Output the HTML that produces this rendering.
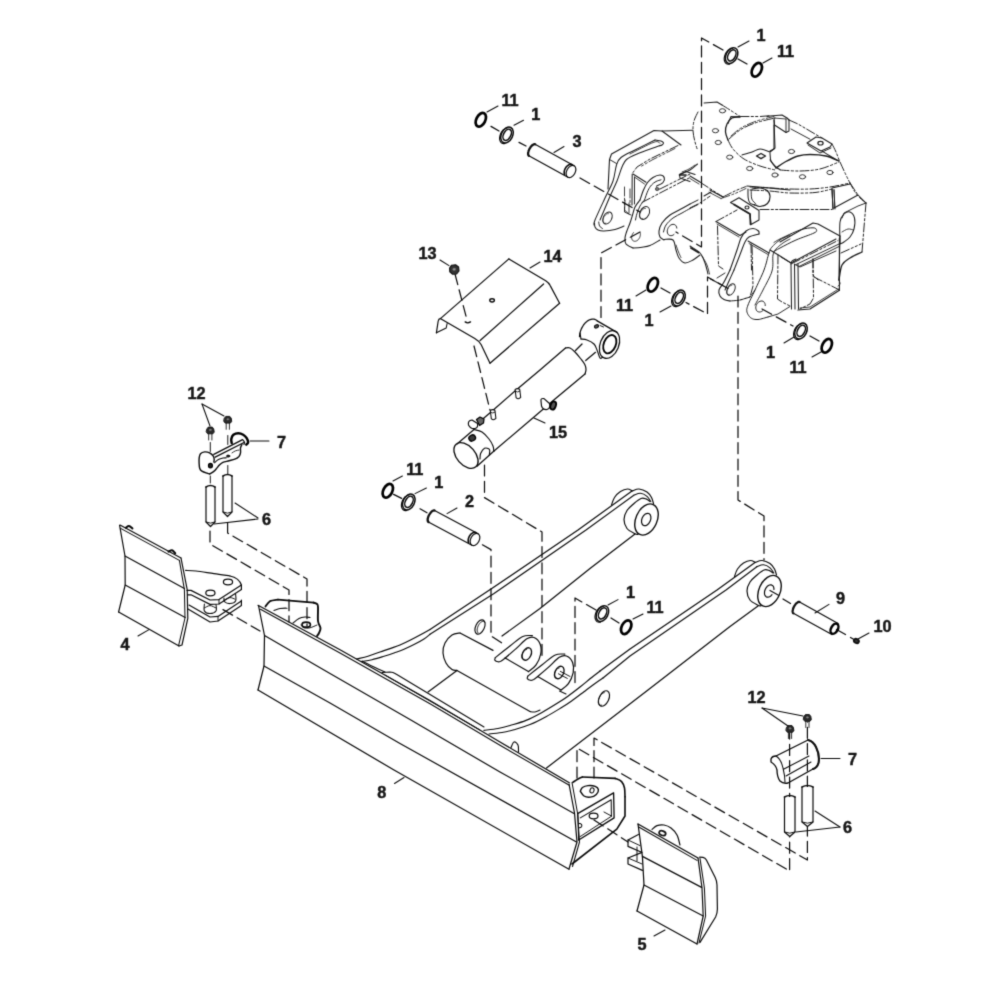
<!DOCTYPE html>
<html><head><meta charset="utf-8"><title>Parts diagram</title>
<style>
html,body{margin:0;padding:0;background:#fff;}
body{width:1000px;height:1000px;overflow:hidden;}
svg{display:block;}
svg text{font-family:"Liberation Sans",sans-serif;font-weight:700;fill:#161616;stroke:#161616;stroke-width:0.45px;}
svg path, svg ellipse{stroke-linecap:round;stroke-linejoin:round;}
</style></head>
<body>
<svg width="1000" height="1000" viewBox="0 0 1000 1000">
<defs><filter id="soft" x="0" y="0" width="1000" height="1000" filterUnits="userSpaceOnUse" color-interpolation-filters="sRGB"><feConvolveMatrix order="3" kernelMatrix="0.0192 0.1001 0.0192 0.1001 0.5228 0.1001 0.0192 0.1001 0.0192" edgeMode="duplicate" preserveAlpha="false"/></filter></defs>
<g filter="url(#soft)">
<rect width="1000" height="1000" fill="#fff"/>
<path d="M608.0,189.0 L609.5,159.5 L611.5,154.0 L654.0,130.5 L662.0,131.0 L681.0,145.0" fill="none" stroke="#1c1c1c" stroke-width="1.10" />
<path d="M662.0,131.0 L693.0,130.2" fill="none" stroke="#1c1c1c" stroke-width="1.04" />
<path d="M609.5,159.5 L616.5,163.5" fill="none" stroke="#1c1c1c" stroke-width="0.94" />
<path d="M655.0,140.0 C651.7,141.7 640.7,147.1 635.0,150.0 C629.3,152.9 624.1,155.0 621.0,157.5 C617.9,160.0 617.8,161.1 616.5,165.0 C615.2,168.9 614.9,175.5 613.0,181.0 C611.1,186.5 608.0,191.5 605.0,198.0 C602.0,204.5 596.8,215.5 595.0,220.0 C593.2,224.5 594.2,224.2 594.0,225.0" fill="none" stroke="#1c1c1c" stroke-width="1.04" />
<path d="M655.0,140.0 C656.0,140.2 659.6,140.5 661.0,141.0 C662.4,141.5 663.3,142.3 663.5,143.0 C663.7,143.7 662.7,144.5 662.0,145.0 C661.3,145.5 659.9,145.7 659.5,145.8" fill="none" stroke="#1c1c1c" stroke-width="1.04" />
<path d="M659.5,145.8 C655.8,147.2 642.5,151.7 637.0,154.0 C631.5,156.3 629.0,157.3 626.5,159.5 C624.0,161.7 623.6,163.4 622.0,167.0 C620.4,170.6 619.1,175.9 617.0,181.0 C614.9,186.1 612.3,191.0 609.5,197.5 C606.7,204.0 601.6,216.2 600.0,220.0" fill="none" stroke="#1c1c1c" stroke-width="1.04" />
<path d="M630.0,154.0 C634.0,152.0 649.0,143.9 654.0,142.2 C659.0,140.4 659.0,143.3 660.0,143.5" fill="none" stroke="#1c1c1c" stroke-width="0.84" />
<path d="M678.0,145.5 L650.0,159.0 L637.0,167.0 L633.0,172.5" fill="none" stroke="#1c1c1c" stroke-width="0.99" stroke-dasharray="9 2.2 2.2 2.2 2.2 2.2" stroke-linecap="butt"/>
<path d="M675.0,148.5 L652.0,160.0 L640.0,167.0" fill="none" stroke="#1c1c1c" stroke-width="0.84" stroke-dasharray="9 2.2 2.2 2.2 2.2 2.2" stroke-linecap="butt"/>
<path d="M632.2,174.0 L632.0,205.0" fill="none" stroke="#1c1c1c" stroke-width="1.04" />
<path d="M634.5,177.0 L634.5,204.0" fill="none" stroke="#1c1c1c" stroke-width="0.94" />
<path d="M624.5,187.0 L624.5,210.0 L630.0,215.0" fill="none" stroke="#1c1c1c" stroke-width="0.84" stroke-dasharray="9 2.2 2.2 2.2 2.2 2.2" stroke-linecap="butt"/>
<path d="M630.0,189.0 L630.0,205.0" fill="none" stroke="#1c1c1c" stroke-width="0.84" stroke-dasharray="9 2.2 2.2 2.2 2.2 2.2" stroke-linecap="butt"/>
<path d="M633.0,174.0 L646.0,182.2" fill="none" stroke="#1c1c1c" stroke-width="1.04" />
<path d="M634.7,177.2 L644.5,184.0" fill="none" stroke="#1c1c1c" stroke-width="0.84" />
<path d="M640.0,200.0 C640.6,198.3 642.2,192.9 643.5,190.0 C644.8,187.1 645.9,184.6 647.5,182.5 C649.1,180.4 650.9,178.8 653.0,177.5 C655.1,176.2 658.1,175.0 660.0,175.0 C661.9,175.0 663.7,176.2 664.2,177.5 C664.7,178.8 664.3,181.1 663.0,182.5 C661.7,183.9 657.6,185.6 656.5,186.2" fill="none" stroke="#1c1c1c" stroke-width="1.10" />
<path d="M644.5,200.0 C645.1,198.4 646.8,193.0 648.0,190.5 C649.2,188.0 650.2,186.5 651.5,185.0 C652.8,183.5 654.4,182.4 656.0,181.5 C657.6,180.6 660.2,180.1 661.0,179.8" fill="none" stroke="#1c1c1c" stroke-width="0.99" />
<ellipse cx="657.2" cy="189.0" rx="1.8" ry="1.6" transform="rotate(0 657.2 189.0)" fill="#777" stroke="#444" stroke-width="0.95"/>
<path d="M660.0,189.0 L680.0,179.0 L690.0,174.0" fill="none" stroke="#1c1c1c" stroke-width="0.99" stroke-dasharray="9 2.2 2.2 2.2 2.2 2.2" stroke-linecap="butt"/>
<path d="M642.0,202.5 L660.0,193.0 L690.0,177.5" fill="none" stroke="#1c1c1c" stroke-width="0.99" stroke-dasharray="9 2.2 2.2 2.2 2.2 2.2" stroke-linecap="butt"/>
<path d="M679.5,175.0 L686.0,171.5 L695.0,174.5" fill="none" stroke="#1c1c1c" stroke-width="1.15" />
<path d="M679.5,175.0 L680.0,178.0 L690.0,181.5" fill="none" stroke="#1c1c1c" stroke-width="1.04" />
<path d="M679.5,175.0 L686.0,175.0" fill="none" stroke="#1c1c1c" stroke-width="1.67" />
<path d="M594.5,223.0 C594.6,223.7 594.4,225.8 595.0,227.0 C595.6,228.2 596.5,229.3 598.0,230.0 C599.5,230.7 601.2,231.1 604.0,231.0 C606.8,230.9 611.7,230.3 615.0,229.5 C618.3,228.7 622.5,226.6 624.0,226.0" fill="none" stroke="#1c1c1c" stroke-width="1.04" />
<path d="M598.8,222.0 C598.9,222.7 598.9,224.9 599.5,226.0 C600.1,227.1 602.0,228.1 602.5,228.5" fill="none" stroke="#1c1c1c" stroke-width="0.94" />
<ellipse cx="607.5" cy="218.0" rx="4.2" ry="6.4" transform="rotate(27 607.5 218.0)" fill="none" stroke="#1c1c1c" stroke-width="0.95"/>
<path d="M605.8,223.2 L605.3,223.3 L604.8,223.3 L604.4,223.2 L604.0,223.0 L603.6,222.8 L603.4,222.4 L603.2,221.9 L603.0,221.4 L602.9,220.8 L602.9,220.2 L603.0,219.5 L603.2,218.8 L603.4,218.1 L603.7,217.4 L604.0,216.7 L604.4,216.1 L604.9,215.5 L605.4,215.0 L605.9,214.6 L606.4,214.2 L606.9,213.9 L607.4,213.7 L607.9,213.7 L608.4,213.7" fill="none" stroke="#1c1c1c" stroke-width="0.76" />
<path d="M640.0,200.0 C639.2,201.2 636.2,204.5 635.0,207.0 C633.8,209.5 633.3,212.3 632.5,215.0 C631.7,217.7 631.0,220.2 630.0,223.0 C629.0,225.8 627.3,229.5 626.5,232.0 C625.7,234.5 625.1,236.0 625.0,238.0 C624.9,240.0 624.7,242.3 626.0,244.0 C627.3,245.7 631.8,247.3 633.0,248.0" fill="none" stroke="#1c1c1c" stroke-width="1.10" />
<path d="M644.5,200.0 C643.8,201.0 641.2,203.8 640.0,206.0 C638.8,208.2 637.8,211.2 637.0,213.5 C636.2,215.8 635.8,218.9 635.5,220.0" fill="none" stroke="#1c1c1c" stroke-width="0.99" />
<ellipse cx="644.5" cy="213.0" rx="4.6" ry="6.8" transform="rotate(27 644.5 213.0)" fill="none" stroke="#1c1c1c" stroke-width="0.95"/>
<path d="M642.8,218.4 L642.3,218.5 L641.8,218.5 L641.3,218.4 L640.9,218.2 L640.5,217.9 L640.2,217.5 L640.0,217.0 L639.8,216.5 L639.8,215.9 L639.7,215.2 L639.8,214.5 L640.0,213.8 L640.2,213.1 L640.5,212.3 L640.9,211.6 L641.3,211.0 L641.8,210.4 L642.3,209.8 L642.8,209.4 L643.3,209.0 L643.9,208.7 L644.4,208.5 L644.9,208.5 L645.4,208.5" fill="none" stroke="#1c1c1c" stroke-width="0.76" />
<path d="M640.0,232.6 L640.3,233.4 L640.4,234.3 L640.3,235.3 L640.1,236.3 L639.8,237.3 L639.3,238.2 L638.7,239.1 L638.0,239.9 L637.3,240.5 L636.5,240.9 L635.6,241.2 L634.8,241.3 L634.1,241.2 L633.4,240.9 L632.7,240.5 L632.3,239.9 L631.9,239.1 L631.7,238.2 L631.6,237.3 L631.7,236.3 L632.0,235.3 L632.4,234.3 L632.9,233.4 L633.5,232.6" fill="none" stroke="#1c1c1c" stroke-width="0.85" />
<path d="M633.0,248.0 C634.5,247.9 639.2,247.6 642.0,247.2 C644.8,246.8 647.0,246.7 650.0,245.5 C653.0,244.3 658.3,240.9 660.0,240.0" fill="none" stroke="#1c1c1c" stroke-width="1.04" />
<path d="M625.0,200.0 L624.5,212.0 L631.0,215.0" fill="none" stroke="#1c1c1c" stroke-width="0.94" />
<path d="M629.0,203.0 L629.0,213.0" fill="none" stroke="#1c1c1c" stroke-width="0.84" />
<path d="M690.0,204.0 C688.3,204.9 683.3,207.7 680.0,209.5 C676.7,211.3 673.0,212.8 670.0,215.0 C667.0,217.2 663.8,220.3 662.0,223.0 C660.2,225.7 659.3,228.7 659.0,231.0 C658.7,233.3 659.2,235.5 660.0,237.0 C660.8,238.5 663.3,239.5 664.0,240.0" fill="none" stroke="#1c1c1c" stroke-width="1.10" />
<path d="M690.0,208.5 C688.7,209.2 684.8,211.4 682.0,213.0 C679.2,214.6 675.7,216.0 673.0,218.0 C670.3,220.0 667.6,222.7 666.0,225.0 C664.4,227.3 663.9,230.8 663.5,232.0" fill="none" stroke="#1c1c1c" stroke-width="0.99" />
<path d="M674.0,234.4 L673.1,235.1 L672.1,235.5 L671.1,235.7 L670.1,235.6 L669.2,235.3 L668.5,234.8 L667.9,234.0 L667.5,233.1 L667.3,232.0 L667.2,230.9 L667.5,229.7 L667.9,228.5 L668.4,227.4 L669.2,226.4 L670.1,225.5 L671.0,224.9 L672.0,224.5 L673.0,224.3 L674.0,224.4 L674.8,224.7 L675.6,225.3 L676.2,226.1 L676.6,227.0 L676.8,228.1" fill="none" stroke="#1c1c1c" stroke-width="0.95" />
<path d="M690.0,204.0 L700.0,199.0" fill="none" stroke="#1c1c1c" stroke-width="0.99" stroke-dasharray="9 2.2 2.2 2.2 2.2 2.2" stroke-linecap="butt"/>
<path d="M690.0,208.5 L700.0,203.5" fill="none" stroke="#1c1c1c" stroke-width="0.99" stroke-dasharray="9 2.2 2.2 2.2 2.2 2.2" stroke-linecap="butt"/>
<path d="M664.0,239.5 C665.5,239.6 671.0,238.2 673.0,240.0 C675.0,241.8 675.0,247.0 676.0,250.0 C677.0,253.0 677.5,255.8 679.0,258.0 C680.5,260.2 682.7,262.7 685.0,263.0 C687.3,263.3 690.5,261.3 693.0,260.0 C695.5,258.7 698.8,255.8 700.0,255.0" fill="none" stroke="#1c1c1c" stroke-width="1.04" />
<path d="M676.0,245.0 C676.4,246.2 677.7,249.9 678.5,252.0 C679.3,254.1 680.6,256.6 681.0,257.5" fill="none" stroke="#1c1c1c" stroke-width="0.84" />
<path d="M691.0,248.0 L698.5,252.5" fill="none" stroke="#1c1c1c" stroke-width="1.88" />
<path d="M690.0,246.0 C691.7,247.2 697.5,250.2 700.0,253.0 C702.5,255.8 703.7,259.5 705.0,263.0 C706.3,266.5 707.5,272.2 708.0,274.0" fill="none" stroke="#1c1c1c" stroke-width="1.04" />
<path d="M702.0,256.0 C702.8,257.5 705.8,262.0 707.0,265.0 C708.2,268.0 709.1,272.5 709.5,274.0" fill="none" stroke="#1c1c1c" stroke-width="0.84" />
<path d="M710.5,279.0 L720.0,284.0" fill="none" stroke="#1c1c1c" stroke-width="1.04" />
<path d="M717.0,278.0 L725.0,273.0" fill="none" stroke="#1c1c1c" stroke-width="0.94" />
<path d="M704.0,103.0 L717.0,102.0 L722.0,105.0" fill="none" stroke="#1c1c1c" stroke-width="1.04" />
<path d="M722.0,105.0 C723.3,105.8 727.0,108.1 730.0,110.0 C733.0,111.9 738.3,115.4 740.0,116.5" fill="none" stroke="#1c1c1c" stroke-width="0.99" stroke-dasharray="9 2.2 2.2 2.2 2.2 2.2" stroke-linecap="butt"/>
<path d="M698.0,112.0 C697.3,113.5 694.8,117.8 694.0,121.0 C693.2,124.2 692.8,127.5 693.0,131.0 C693.2,134.5 694.2,138.8 695.0,142.0 C695.8,145.2 697.1,148.7 697.5,150.0" fill="none" stroke="#1c1c1c" stroke-width="0.99" stroke-dasharray="9 2.2 2.2 2.2 2.2 2.2" stroke-linecap="butt"/>
<path d="M697.5,164.0 C696.2,165.0 692.9,168.3 690.0,170.0 C687.1,171.7 681.7,173.3 680.0,174.0" fill="none" stroke="#1c1c1c" stroke-width="1.04" />
<path d="M695.0,165.0 C694.0,165.7 691.2,167.8 689.0,169.0 C686.8,170.2 683.2,171.5 682.0,172.0" fill="none" stroke="#1c1c1c" stroke-width="0.84" />
<ellipse cx="722.5" cy="110.8" rx="3.1" ry="2.1" transform="rotate(0 722.5 110.8)" fill="none" stroke="#1c1c1c" stroke-width="0.90"/>
<ellipse cx="715.5" cy="130.7" rx="3.1" ry="2.1" transform="rotate(0 715.5 130.7)" fill="none" stroke="#1c1c1c" stroke-width="0.90"/>
<ellipse cx="718.3" cy="142.5" rx="3.1" ry="2.1" transform="rotate(0 718.3 142.5)" fill="none" stroke="#1c1c1c" stroke-width="0.90"/>
<ellipse cx="729.7" cy="157.2" rx="3.1" ry="2.1" transform="rotate(0 729.7 157.2)" fill="none" stroke="#1c1c1c" stroke-width="0.90"/>
<ellipse cx="749.7" cy="168.5" rx="3.1" ry="2.1" transform="rotate(0 749.7 168.5)" fill="none" stroke="#1c1c1c" stroke-width="0.90"/>
<ellipse cx="775.0" cy="175.0" rx="3.1" ry="2.1" transform="rotate(0 775.0 175.0)" fill="none" stroke="#1c1c1c" stroke-width="0.90"/>
<path d="M740.0,116.5 C738.7,116.8 734.2,116.8 732.0,118.0 C729.8,119.2 728.1,121.7 727.0,124.0 C725.9,126.3 725.3,129.3 725.5,132.0 C725.7,134.7 727.6,138.7 728.0,140.0" fill="none" stroke="#1c1c1c" stroke-width="1.31" />
<path d="M728.0,140.0 C728.8,141.5 730.3,145.8 733.0,149.0 C735.7,152.2 739.5,156.2 744.0,159.0 C748.5,161.8 754.8,164.2 760.0,166.0 C765.2,167.8 772.5,169.3 775.0,170.0" fill="none" stroke="#1c1c1c" stroke-width="0.99" stroke-dasharray="9 2.2 2.2 2.2 2.2 2.2" stroke-linecap="butt"/>
<path d="M728.0,123.5 L731.0,116.5 L740.0,117.2" fill="none" stroke="#1c1c1c" stroke-width="1.04" />
<path d="M729.0,139.0 C730.8,137.5 735.7,132.7 740.0,130.0 C744.3,127.3 749.2,125.0 755.0,123.0 C760.8,121.0 771.7,118.8 775.0,118.0" fill="none" stroke="#1c1c1c" stroke-width="0.99" stroke-dasharray="9 2.2 2.2 2.2 2.2 2.2" stroke-linecap="butt"/>
<path d="M731.0,136.0 C732.7,134.7 736.8,130.5 741.0,128.0 C745.2,125.5 750.5,123.1 756.0,121.2 C761.5,119.3 771.0,117.3 774.0,116.5" fill="none" stroke="#1c1c1c" stroke-width="0.84" stroke-dasharray="9 2.2 2.2 2.2 2.2 2.2" stroke-linecap="butt"/>
<path d="M740.0,116.5 L760.0,116.5 L770.0,115.7" fill="none" stroke="#1c1c1c" stroke-width="0.99" stroke-dasharray="9 2.2 2.2 2.2 2.2 2.2" stroke-linecap="butt"/>
<path d="M774.0,120.0 L775.0,148.0 L770.0,152.0" fill="none" stroke="#1c1c1c" stroke-width="1.04" />
<path d="M742.0,155.0 C743.7,154.5 749.0,153.0 752.0,152.0 C755.0,151.0 757.0,149.0 760.0,149.0 C763.0,149.0 768.3,151.5 770.0,152.0" fill="none" stroke="#1c1c1c" stroke-width="1.04" />
<path d="M756.5,156.0 L761.0,153.5 L765.5,156.0 L761.0,158.7 Z" fill="none" stroke="#1c1c1c" stroke-width="1.36" />
<path d="M770.0,153.0 C770.2,154.3 770.0,158.7 771.0,161.0 C772.0,163.3 774.5,165.6 776.0,167.0 C777.5,168.4 779.3,169.1 780.0,169.5" fill="none" stroke="#1c1c1c" stroke-width="1.04" />
<path d="M767.0,116.5 L770.0,116.0 L782.0,115.0 L787.0,118.0 L789.0,120.0" fill="none" stroke="#1c1c1c" stroke-width="1.15" />
<path d="M774.0,118.0 L774.5,125.0 L786.0,132.5 L789.0,131.0 L789.0,120.0" fill="none" stroke="#1c1c1c" stroke-width="1.04" />
<path d="M786.0,132.5 L786.0,119.0" fill="none" stroke="#1c1c1c" stroke-width="0.94" />
<path d="M774.0,118.0 L786.0,119.0" fill="none" stroke="#1c1c1c" stroke-width="0.84" />
<path d="M789.0,120.0 L798.0,124.0 L815.0,134.0 L822.0,138.0" fill="none" stroke="#1c1c1c" stroke-width="0.99" stroke-dasharray="9 2.2 2.2 2.2 2.2 2.2" stroke-linecap="butt"/>
<path d="M791.0,129.0 L810.0,139.2" fill="none" stroke="#1c1c1c" stroke-width="0.94" />
<path d="M807.0,143.0 L816.0,137.0 L822.0,138.0 L832.0,144.0 L830.0,147.0 L821.0,151.0 Z" fill="none" stroke="#1c1c1c" stroke-width="1.04" />
<ellipse cx="820.5" cy="143.2" rx="2.6" ry="1.8" transform="rotate(0 820.5 143.2)" fill="none" stroke="#1c1c1c" stroke-width="1.23"/>
<path d="M808.0,145.0 L820.0,153.0 L831.0,148.0" fill="none" stroke="#1c1c1c" stroke-width="0.94" />
<path d="M832.0,144.0 C832.7,145.3 834.7,149.0 836.0,152.0 C837.3,155.0 838.3,158.2 840.0,162.0 C841.7,165.8 844.3,171.5 846.0,175.0 C847.7,178.5 848.5,180.2 850.0,183.0 C851.5,185.8 853.3,189.5 855.0,192.0 C856.7,194.5 858.2,196.2 860.0,198.0 C861.8,199.8 865.0,202.2 866.0,203.0" fill="none" stroke="#1c1c1c" stroke-width="0.99" stroke-dasharray="9 2.2 2.2 2.2 2.2 2.2" stroke-linecap="butt"/>
<path d="M776.0,168.0 C777.5,167.0 781.3,164.0 785.0,162.0 C788.7,160.0 793.8,157.2 798.0,156.0 C802.2,154.8 805.3,154.5 810.0,154.5 C814.7,154.5 821.2,154.9 826.0,156.0 C830.8,157.1 836.8,160.2 839.0,161.0" fill="none" stroke="#1c1c1c" stroke-width="1.36" />
<path d="M780.0,170.0 C783.3,170.2 793.3,171.2 800.0,171.0 C806.7,170.8 813.5,170.5 820.0,169.0 C826.5,167.5 835.8,163.2 839.0,162.0" fill="none" stroke="#1c1c1c" stroke-width="0.99" stroke-dasharray="9 2.2 2.2 2.2 2.2 2.2" stroke-linecap="butt"/>
<path d="M822.0,151.0 C823.3,151.8 827.5,154.5 830.0,156.0 C832.5,157.5 835.8,159.3 837.0,160.0" fill="none" stroke="#1c1c1c" stroke-width="1.04" />
<path d="M774.0,125.0 L774.0,149.0 L770.0,151.0" fill="none" stroke="#1c1c1c" stroke-width="1.04" />
<path d="M770.0,160.0 C771.0,161.3 775.0,166.7 776.0,168.0" fill="none" stroke="#1c1c1c" stroke-width="1.04" />
<ellipse cx="791.5" cy="151.5" rx="3.1" ry="2.1" transform="rotate(0 791.5 151.5)" fill="none" stroke="#1c1c1c" stroke-width="0.90"/>
<ellipse cx="802.5" cy="176.8" rx="3.1" ry="2.1" transform="rotate(0 802.5 176.8)" fill="none" stroke="#1c1c1c" stroke-width="0.90"/>
<ellipse cx="830.0" cy="172.5" rx="3.1" ry="2.1" transform="rotate(0 830.0 172.5)" fill="none" stroke="#1c1c1c" stroke-width="0.90"/>
<path d="M750.0,187.0 C753.3,187.2 763.3,187.7 770.0,188.0 C776.7,188.3 783.3,188.8 790.0,189.0 C796.7,189.2 803.3,189.3 810.0,189.0 C816.7,188.7 823.3,188.0 830.0,187.0 C836.7,186.0 846.7,183.7 850.0,183.0" fill="none" stroke="#1c1c1c" stroke-width="0.99" stroke-dasharray="9 2.2 2.2 2.2 2.2 2.2" stroke-linecap="butt"/>
<path d="M750.0,190.0 C753.3,190.2 763.3,190.5 770.0,191.0 C776.7,191.5 782.5,192.8 790.0,193.0 C797.5,193.2 808.0,193.2 815.0,192.5 C822.0,191.8 829.2,189.6 832.0,189.0" fill="none" stroke="#1c1c1c" stroke-width="0.99" stroke-dasharray="9 2.2 2.2 2.2 2.2 2.2" stroke-linecap="butt"/>
<path d="M832.0,189.0 L833.0,209.0" fill="none" stroke="#1c1c1c" stroke-width="1.04" />
<path d="M834.0,190.0 L835.0,209.0" fill="none" stroke="#1c1c1c" stroke-width="0.94" />
<path d="M832.0,188.0 L850.0,184.0" fill="none" stroke="#1c1c1c" stroke-width="1.04" />
<path d="M700.5,182.5 L723.0,197.0" fill="none" stroke="#1c1c1c" stroke-width="0.99" stroke-dasharray="9 2.2 2.2 2.2 2.2 2.2" stroke-linecap="butt"/>
<path d="M710.0,190.0 L723.0,197.0" fill="none" stroke="#1c1c1c" stroke-width="1.25" />
<path d="M709.0,192.2 L721.0,198.5" fill="none" stroke="#1c1c1c" stroke-width="0.84" />
<path d="M723.0,197.0 C725.0,196.0 731.2,192.8 735.0,191.0 C738.8,189.2 744.2,187.2 746.0,186.5" fill="none" stroke="#1c1c1c" stroke-width="0.99" stroke-dasharray="9 2.2 2.2 2.2 2.2 2.2" stroke-linecap="butt"/>
<path d="M721.0,198.5 C723.3,197.7 730.8,195.2 735.0,193.5 C739.2,191.8 744.2,189.3 746.0,188.5" fill="none" stroke="#1c1c1c" stroke-width="0.84" stroke-dasharray="9 2.2 2.2 2.2 2.2 2.2" stroke-linecap="butt"/>
<path d="M747.0,186.0 C750.0,186.2 757.8,186.8 765.0,187.5 C772.2,188.2 785.8,189.6 790.0,190.0" fill="none" stroke="#1c1c1c" stroke-width="1.15" />
<path d="M690.0,176.0 L700.0,182.0" fill="none" stroke="#1c1c1c" stroke-width="1.04" />
<path d="M690.0,178.5 L699.0,184.0" fill="none" stroke="#1c1c1c" stroke-width="0.84" />
<path d="M690.0,208.0 L700.0,203.0 L710.0,196.2" fill="none" stroke="#1c1c1c" stroke-width="0.99" stroke-dasharray="9 2.2 2.2 2.2 2.2 2.2" stroke-linecap="butt"/>
<path d="M704.0,196.0 L711.0,192.0" fill="none" stroke="#1c1c1c" stroke-width="1.04" />
<path d="M748.0,189.0 C748.0,190.5 747.9,195.7 748.2,198.0 C748.5,200.3 748.9,201.8 750.0,203.0 C751.1,204.2 754.2,204.8 755.0,205.2" fill="none" stroke="#1c1c1c" stroke-width="1.04" />
<path d="M751.2,190.0 C751.3,191.5 751.0,196.7 751.8,199.0 C752.6,201.3 755.3,203.2 756.0,204.0" fill="none" stroke="#1c1c1c" stroke-width="0.94" />
<path d="M752.0,189.0 C753.3,188.8 757.5,187.8 760.0,188.0 C762.5,188.2 765.3,189.2 767.0,190.5 C768.7,191.8 769.9,193.8 770.0,196.0 C770.1,198.2 769.2,201.8 767.5,203.5 C765.8,205.2 762.2,206.3 760.0,206.5 C757.8,206.7 755.0,204.8 754.0,204.5" fill="none" stroke="#1c1c1c" stroke-width="1.15" />
<path d="M760.0,209.5 L790.0,209.5" fill="none" stroke="#1c1c1c" stroke-width="0.99" stroke-dasharray="9 2.2 2.2 2.2 2.2 2.2" stroke-linecap="butt"/>
<path d="M730.5,202.5 L739.0,197.8 L759.0,210.5 L759.0,220.0 L751.0,224.5 L750.0,214.0 L734.0,204.5 Z" fill="none" stroke="#1c1c1c" stroke-width="1.04" />
<path d="M734.0,204.5 L750.0,214.0 L750.5,224.5" fill="none" stroke="#1c1c1c" stroke-width="1.67" />
<ellipse cx="747.0" cy="207.5" rx="2.0" ry="1.5" transform="rotate(0 747.0 207.5)" fill="none" stroke="#1c1c1c" stroke-width="1.14"/>
<path d="M716.0,221.5 L737.0,210.0" fill="none" stroke="#1c1c1c" stroke-width="0.99" stroke-dasharray="9 2.2 2.2 2.2 2.2 2.2" stroke-linecap="butt"/>
<path d="M716.0,221.5 L740.0,235.5 L746.0,232.0" fill="none" stroke="#1c1c1c" stroke-width="1.04" />
<path d="M717.0,224.0 L739.0,237.0" fill="none" stroke="#1c1c1c" stroke-width="0.84" />
<path d="M717.5,226.0 L718.5,266.0 L723.0,269.0" fill="none" stroke="#1c1c1c" stroke-width="0.99" stroke-dasharray="9 2.2 2.2 2.2 2.2 2.2" stroke-linecap="butt"/>
<path d="M759.0,234.0 C758.9,233.5 759.5,231.9 758.5,231.0 C757.5,230.1 755.1,228.5 753.0,228.5 C750.9,228.5 748.0,229.4 746.0,231.0 C744.0,232.6 742.5,234.8 741.0,238.0 C739.5,241.2 738.8,244.7 737.0,250.0 C735.2,255.3 731.2,266.7 730.0,270.0" fill="none" stroke="#1c1c1c" stroke-width="1.10" />
<path d="M759.0,234.0 C757.3,234.5 751.3,235.7 749.0,237.0 C746.7,238.3 746.3,239.5 745.0,242.0 C743.7,244.5 742.8,247.3 741.0,252.0 C739.2,256.7 735.2,267.0 734.0,270.0" fill="none" stroke="#1c1c1c" stroke-width="1.04" />
<path d="M730.0,270.0 C729.0,272.0 725.8,278.7 724.0,282.0 C722.2,285.3 719.7,287.7 719.0,290.0 C718.3,292.3 719.2,294.4 720.0,296.0 C720.8,297.6 722.3,298.7 724.0,299.5 C725.7,300.3 729.0,300.8 730.0,301.0" fill="none" stroke="#1c1c1c" stroke-width="1.10" />
<path d="M734.0,270.0 C733.2,271.8 730.5,277.7 729.0,281.0 C727.5,284.3 725.7,288.5 725.0,290.0" fill="none" stroke="#1c1c1c" stroke-width="1.04" />
<ellipse cx="731.0" cy="289.5" rx="3.6" ry="6.2" transform="rotate(27 731.0 289.5)" fill="none" stroke="#1c1c1c" stroke-width="0.95"/>
<path d="M729.2,294.4 L728.7,294.6 L728.3,294.6 L727.9,294.5 L727.6,294.4 L727.3,294.1 L727.1,293.8 L726.9,293.4 L726.8,292.9 L726.8,292.3 L726.8,291.7 L726.9,291.1 L727.0,290.4 L727.3,289.7 L727.6,289.1 L727.9,288.4 L728.3,287.8 L728.7,287.3 L729.1,286.8 L729.6,286.3 L730.1,285.9 L730.5,285.7 L731.0,285.5 L731.4,285.4 L731.8,285.4" fill="none" stroke="#1c1c1c" stroke-width="0.76" />
<path d="M730.0,301.0 C731.7,300.8 736.7,300.7 740.0,300.0 C743.3,299.3 748.3,297.5 750.0,297.0" fill="none" stroke="#1c1c1c" stroke-width="0.99" stroke-dasharray="9 2.2 2.2 2.2 2.2 2.2" stroke-linecap="butt"/>
<path d="M748.0,241.0 L769.0,253.0" fill="none" stroke="#1c1c1c" stroke-width="1.04" />
<path d="M749.0,243.5 L768.0,254.5" fill="none" stroke="#1c1c1c" stroke-width="0.84" />
<path d="M751.0,244.0 L751.5,270.0" fill="none" stroke="#1c1c1c" stroke-width="0.99" stroke-dasharray="9 2.2 2.2 2.2 2.2 2.2" stroke-linecap="butt"/>
<path d="M790.0,235.0 L789.2,235.4 L788.2,235.9 L786.9,236.4 L785.5,237.1 L784.0,237.8 L782.6,238.5 L781.2,239.2 L780.0,240.0 L778.9,240.8 L777.7,241.6 L776.6,242.5 L775.6,243.4 L774.5,244.4 L773.6,245.3 L772.7,246.2 L772.0,247.0 L771.4,247.7 L770.9,248.3 L770.6,248.8 L770.3,249.4 L770.1,250.0 L769.8,250.8 L769.4,251.7 L769.0,253.0 L768.5,254.6 L768.0,256.4 L767.4,258.4 L766.9,260.6 L766.3,262.9 L765.6,265.3 L764.8,267.7 L764.0,270.0 L763.1,272.4 L762.0,274.9 L760.8,277.5 L759.6,280.1 L758.4,282.7 L757.2,285.3 L756.1,287.7 L755.0,290.0 L754.0,292.2 L753.0,294.3 L752.0,296.3 L751.0,298.3 L750.1,300.2 L749.3,301.9 L748.6,303.5 L748.0,305.0 L747.6,306.3 L747.2,307.3 L747.0,308.3 L746.8,309.1 L746.7,309.8 L746.8,310.5 L746.8,311.2 L747.0,312.0 L747.2,312.8 L747.6,313.7 L748.0,314.5 L748.5,315.3 L749.1,316.1 L749.7,316.8 L750.3,317.5 L751.0,318.0 L751.7,318.4 L752.5,318.8 L753.3,319.1 L754.1,319.3 L755.0,319.4 L756.0,319.5 L757.0,319.5 L758.0,319.5 L759.2,319.4 L760.5,319.1 L762.0,318.7 L763.4,318.3 L764.9,317.9 L766.1,317.5 L767.2,317.2 L768.0,317.0" fill="none" stroke="#1c1c1c" stroke-width="1.00" />
<path d="M790.0,239.0 L789.5,239.3 L788.7,239.7 L787.9,240.1 L786.9,240.6 L785.9,241.2 L784.9,241.8 L783.9,242.4 L783.0,243.0 L782.1,243.7 L781.2,244.4 L780.2,245.1 L779.2,245.9 L778.3,246.7 L777.5,247.5 L776.7,248.2 L776.0,249.0 L775.4,249.7 L774.9,250.3 L774.5,250.8 L774.1,251.4 L773.8,252.0 L773.5,252.8 L773.3,253.8 L773.0,255.0 L772.8,256.5 L772.8,258.2 L772.8,260.1 L772.9,262.2 L772.9,264.3 L772.8,266.6 L772.5,268.8 L772.0,271.0 L771.3,273.3 L770.3,275.6 L769.2,278.1 L767.9,280.6 L766.7,283.0 L765.4,285.5 L764.1,287.8 L763.0,290.0 L761.9,292.2 L760.7,294.4 L759.6,296.6 L758.4,298.7 L757.4,300.6 L756.4,302.4 L755.6,303.9 L755.0,305.0" fill="none" stroke="#1c1c1c" stroke-width="0.95" />
<path d="M832.0,189.0 L833.0,209.0" fill="none" stroke="#1c1c1c" stroke-width="1.04" />
<path d="M834.0,189.5 L834.8,208.0" fill="none" stroke="#1c1c1c" stroke-width="0.84" />
<path d="M780.0,209.5 L832.0,209.5" fill="none" stroke="#1c1c1c" stroke-width="0.99" stroke-dasharray="9 2.2 2.2 2.2 2.2 2.2" stroke-linecap="butt"/>
<path d="M834.0,208.0 L858.0,195.0 L866.0,203.0" fill="none" stroke="#1c1c1c" stroke-width="1.04" />
<path d="M850.0,183.0 L858.0,195.0" fill="none" stroke="#1c1c1c" stroke-width="0.99" stroke-dasharray="9 2.2 2.2 2.2 2.2 2.2" stroke-linecap="butt"/>
<path d="M866.0,203.0 L862.0,252.0" fill="none" stroke="#1c1c1c" stroke-width="0.99" stroke-dasharray="9 2.2 2.2 2.2 2.2 2.2" stroke-linecap="butt"/>
<path d="M862.0,252.0 C860.0,253.0 853.3,255.8 850.0,258.0 C846.7,260.2 843.8,261.3 842.0,265.0 C840.2,268.7 839.5,277.5 839.0,280.0" fill="none" stroke="#1c1c1c" stroke-width="1.31" />
<path d="M840.0,236.0 L839.0,280.0" fill="none" stroke="#1c1c1c" stroke-width="1.04" />
<path d="M840.0,244.0 C840.0,240.3 839.3,227.0 840.0,222.0 C840.7,217.0 842.3,215.7 844.0,214.0 C845.7,212.3 848.2,211.3 850.0,212.0 C851.8,212.7 853.8,215.2 854.5,218.0 C855.2,220.8 854.8,225.8 854.0,229.0 C853.2,232.2 851.7,234.8 850.0,237.0 C848.3,239.2 845.7,240.8 844.0,242.0 C842.3,243.2 840.7,243.7 840.0,244.0" fill="none" stroke="#1c1c1c" stroke-width="1.04" />
<path d="M842.0,232.0 C843.0,231.5 846.1,229.3 848.0,229.0 C849.9,228.7 852.6,229.8 853.5,230.0" fill="none" stroke="#1c1c1c" stroke-width="0.84" />
<path d="M842.0,218.0 L844.0,213.0 L858.0,206.0 L866.0,203.0" fill="none" stroke="#1c1c1c" stroke-width="0.94" />
<path d="M780.0,242.0 L813.0,223.0 L818.0,224.0 L840.0,236.0" fill="none" stroke="#1c1c1c" stroke-width="1.10" />
<path d="M774.0,242.5 C775.0,241.9 775.7,241.1 780.0,239.0 C784.3,236.9 794.5,231.9 800.0,230.0 C805.5,228.1 810.2,227.8 813.0,227.8 C815.8,227.8 816.3,229.1 816.5,230.0 C816.7,230.9 817.4,231.3 814.0,233.0 C810.6,234.7 801.7,237.5 796.0,240.0 C790.3,242.5 783.7,246.1 780.0,248.0 C776.3,249.9 775.0,250.9 774.0,251.5" fill="none" stroke="#1c1c1c" stroke-width="0.99" />
<path d="M770.0,250.0 L780.0,256.0 L791.0,263.0 L836.0,239.0" fill="none" stroke="#1c1c1c" stroke-width="1.04" />
<path d="M792.0,263.5 L838.0,240.5" fill="none" stroke="#1c1c1c" stroke-width="0.99" stroke-dasharray="9 2.2 2.2 2.2 2.2 2.2" stroke-linecap="butt"/>
<path d="M795.0,265.0 L839.0,244.0" fill="none" stroke="#1c1c1c" stroke-width="0.94" />
<path d="M799.0,266.5 L839.0,246.5" fill="none" stroke="#1c1c1c" stroke-width="0.94" />
<path d="M813.0,259.0 L813.0,275.0 L818.0,280.0" fill="none" stroke="#1c1c1c" stroke-width="0.99" stroke-dasharray="9 2.2 2.2 2.2 2.2 2.2" stroke-linecap="butt"/>
<path d="M841.0,253.0 L861.0,244.0" fill="none" stroke="#1c1c1c" stroke-width="0.99" stroke-dasharray="9 2.2 2.2 2.2 2.2 2.2" stroke-linecap="butt"/>
<path d="M762.6,310.8 L761.6,311.5 L760.6,311.9 L759.6,312.0 L758.6,311.9 L757.7,311.6 L756.9,311.0 L756.4,310.2 L756.0,309.2 L755.8,308.1 L755.8,306.9 L756.1,305.7 L756.6,304.5 L757.2,303.4 L758.1,302.5 L759.0,301.8 L760.0,301.3 L761.0,301.0 L762.0,301.0 L763.0,301.2 L763.8,301.8 L764.4,302.5 L764.9,303.4 L765.2,304.5 L765.2,305.6" fill="none" stroke="#1c1c1c" stroke-width="0.95" />
<path d="M752.0,246.0 L753.0,286.0 L750.0,297.0 L740.0,300.0" fill="none" stroke="#1c1c1c" stroke-width="0.99" stroke-dasharray="9 2.2 2.2 2.2 2.2 2.2" stroke-linecap="butt"/>
<path d="M750.0,297.0 L755.0,290.0" fill="none" stroke="#1c1c1c" stroke-width="0.84" />
<path d="M791.0,264.0 L791.5,309.0" fill="none" stroke="#1c1c1c" stroke-width="1.04" />
<path d="M794.5,264.0 L795.0,309.0" fill="none" stroke="#1c1c1c" stroke-width="1.04" />
<path d="M798.0,264.0 L798.5,309.0" fill="none" stroke="#1c1c1c" stroke-width="1.04" />
<path d="M791.0,264.0 C791.2,263.5 791.2,261.8 792.0,261.0 C792.8,260.2 795.3,259.3 796.0,259.0" fill="none" stroke="#1c1c1c" stroke-width="1.04" />
<path d="M796.0,265.0 L800.0,267.0 L836.0,251.0" fill="none" stroke="#1c1c1c" stroke-width="0.94" />
<path d="M798.0,310.0 L810.0,309.0 L839.4,290.3" fill="none" stroke="#1c1c1c" stroke-width="1.25" />
<path d="M800.0,308.0 L810.0,307.0 L838.5,289.0" fill="none" stroke="#1c1c1c" stroke-width="0.84" />
<path d="M839.4,238.0 L839.4,290.3" fill="none" stroke="#1c1c1c" stroke-width="1.15" />
<path d="M813.0,259.0 L813.5,298.0 L810.0,304.0 L800.0,309.0" fill="none" stroke="#1c1c1c" stroke-width="0.99" stroke-dasharray="9 2.2 2.2 2.2 2.2 2.2" stroke-linecap="butt"/>
<path d="M781.0,257.0 L791.0,263.0" fill="none" stroke="#1c1c1c" stroke-width="0.94" />
<path d="M778.0,255.0 L777.5,299.0 L782.0,302.0 L790.0,306.0" fill="none" stroke="#1c1c1c" stroke-width="0.99" stroke-dasharray="9 2.2 2.2 2.2 2.2 2.2" stroke-linecap="butt"/>
<path d="M790.0,306.5 L778.0,314.0 L768.0,317.0" fill="none" stroke="#1c1c1c" stroke-width="0.94" />
<path d="M814.0,277.0 L838.5,289.5" fill="none" stroke="#1c1c1c" stroke-width="0.99" stroke-dasharray="9 2.2 2.2 2.2 2.2 2.2" stroke-linecap="butt"/>
<path d="M839.0,280.0 C839.2,280.7 840.2,283.0 840.0,284.0 C839.8,285.0 838.3,285.7 838.0,286.0" fill="none" stroke="#1c1c1c" stroke-width="0.94" />
<path d="M723.0,50.0 L701.5,38.0 L701.5,247.0 L676.0,232.0" fill="none" stroke="#0a0a0a" stroke-width="1.23" stroke-dasharray="11 5.3" stroke-linecap="butt" stroke-dashoffset="0"/>
<path d="M728.0,288.5 L707.5,277.0 L707.5,314.0 L686.0,302.5" fill="none" stroke="#0a0a0a" stroke-width="1.23" stroke-dasharray="11 5.3" stroke-linecap="butt" stroke-dashoffset="0"/>
<path d="M738.0,59.0 L747.0,64.0" fill="none" stroke="#0a0a0a" stroke-width="1.23" stroke-dasharray="20 3" stroke-linecap="butt" stroke-dashoffset="0"/>
<path d="M491.0,126.4 L499.0,131.0" fill="none" stroke="#0a0a0a" stroke-width="1.23" stroke-dasharray="20 3" stroke-linecap="butt" stroke-dashoffset="0"/>
<path d="M519.0,142.4 L526.0,146.0" fill="none" stroke="#0a0a0a" stroke-width="1.23" stroke-dasharray="20 3" stroke-linecap="butt" stroke-dashoffset="0"/>
<path d="M580.0,178.0 L640.0,212.0" fill="none" stroke="#0a0a0a" stroke-width="1.23" stroke-dasharray="11 5.3" stroke-linecap="butt" stroke-dashoffset="0"/>
<path d="M455.0,274.0 L467.0,320.0" fill="none" stroke="#0a0a0a" stroke-width="1.23" stroke-dasharray="11 5.3" stroke-linecap="butt" stroke-dashoffset="0"/>
<path d="M474.0,346.0 L490.0,410.0" fill="none" stroke="#0a0a0a" stroke-width="1.23" stroke-dasharray="11 5.3" stroke-linecap="butt" stroke-dashoffset="0"/>
<path d="M640.0,232.0 L601.0,253.0 L601.0,319.0" fill="none" stroke="#0a0a0a" stroke-width="1.23" stroke-dasharray="11 5.3" stroke-linecap="butt" stroke-dashoffset="0"/>
<path d="M484.5,465.0 L484.5,497.6 L542.0,532.0 L542.0,656.0" fill="none" stroke="#0a0a0a" stroke-width="1.23" stroke-dasharray="11 5.3" stroke-linecap="butt" stroke-dashoffset="0"/>
<path d="M393.6,494.4 L401.6,498.4" fill="none" stroke="#0a0a0a" stroke-width="1.23" stroke-dasharray="20 3" stroke-linecap="butt" stroke-dashoffset="0"/>
<path d="M420.0,508.8 L427.0,512.8" fill="none" stroke="#0a0a0a" stroke-width="1.23" stroke-dasharray="20 3" stroke-linecap="butt" stroke-dashoffset="0"/>
<path d="M482.4,544.8 L491.0,549.6 L491.0,636.0 L505.0,645.0" fill="none" stroke="#0a0a0a" stroke-width="1.23" stroke-dasharray="11 5.3" stroke-linecap="butt" stroke-dashoffset="0"/>
<path d="M596.0,610.0 L575.0,598.0 L575.0,686.0" fill="none" stroke="#0a0a0a" stroke-width="1.23" stroke-dasharray="11 5.3" stroke-linecap="butt" stroke-dashoffset="0"/>
<path d="M611.0,618.0 L619.0,623.0" fill="none" stroke="#0a0a0a" stroke-width="1.23" stroke-dasharray="20 3" stroke-linecap="butt" stroke-dashoffset="0"/>
<path d="M661.0,288.0 L670.0,293.0" fill="none" stroke="#0a0a0a" stroke-width="1.23" stroke-dasharray="20 3" stroke-linecap="butt" stroke-dashoffset="0"/>
<path d="M762.0,309.0 L793.0,326.0" fill="none" stroke="#0a0a0a" stroke-width="1.23" stroke-dasharray="11 5.3" stroke-linecap="butt" stroke-dashoffset="0"/>
<path d="M810.0,336.0 L819.0,341.0" fill="none" stroke="#0a0a0a" stroke-width="1.23" stroke-dasharray="20 3" stroke-linecap="butt" stroke-dashoffset="0"/>
<path d="M738.0,296.0 L738.0,500.0 L764.0,516.0 L764.0,560.0" fill="none" stroke="#0a0a0a" stroke-width="1.23" stroke-dasharray="11 5.3" stroke-linecap="butt" stroke-dashoffset="0"/>
<path d="M783.0,599.0 L790.5,603.5" fill="none" stroke="#0a0a0a" stroke-width="1.23" stroke-dasharray="20 3" stroke-linecap="butt" stroke-dashoffset="0"/>
<path d="M836.5,629.5 L845.5,634.5" fill="none" stroke="#0a0a0a" stroke-width="1.23" stroke-dasharray="20 3" stroke-linecap="butt" stroke-dashoffset="0"/>
<path d="M850.5,637.5 L854.5,639.8" fill="none" stroke="#0a0a0a" stroke-width="1.23" stroke-dasharray="20 3" stroke-linecap="butt" stroke-dashoffset="0"/>
<path d="M210.3,442.5 L210.3,451.5" fill="none" stroke="#0a0a0a" stroke-width="0.95" />
<path d="M210.3,476.0 L210.3,483.0" fill="none" stroke="#0a0a0a" stroke-width="0.95" />
<path d="M227.8,435.5 L227.8,444.5" fill="none" stroke="#0a0a0a" stroke-width="0.95" />
<path d="M227.8,465.5 L227.8,474.5" fill="none" stroke="#0a0a0a" stroke-width="0.95" />
<path d="M210.0,531.0 L210.0,544.0 L289.0,590.0 L289.0,622.0" fill="none" stroke="#0a0a0a" stroke-width="1.23" stroke-dasharray="11 5.3" stroke-linecap="butt" stroke-dashoffset="0"/>
<path d="M227.6,523.0 L227.6,533.0 L307.0,579.0 L307.0,626.0" fill="none" stroke="#0a0a0a" stroke-width="1.23" stroke-dasharray="11 5.3" stroke-linecap="butt" stroke-dashoffset="0"/>
<path d="M223.0,609.6 L260.0,631.0" fill="none" stroke="#0a0a0a" stroke-width="1.23" stroke-dasharray="11 5.3" stroke-linecap="butt" stroke-dashoffset="0"/>
<path d="M577.0,778.0 L577.0,748.0 L789.6,871.0 L789.6,733.0" fill="none" stroke="#0a0a0a" stroke-width="1.23" stroke-dasharray="11 5.3" stroke-linecap="butt" stroke-dashoffset="0"/>
<path d="M594.0,778.0 L594.0,738.0 L807.4,860.0 L807.4,722.0" fill="none" stroke="#0a0a0a" stroke-width="1.23" stroke-dasharray="11 5.3" stroke-linecap="butt" stroke-dashoffset="0"/>
<path d="M594.0,820.0 L628.0,842.0" fill="none" stroke="#0a0a0a" stroke-width="1.23" stroke-dasharray="11 5.3" stroke-linecap="butt" stroke-dashoffset="0"/>
<path d="M449.6,268 L451.6,265.2 L455.6,264.8 L458.6,267 L459,271 L456.6,274 L452.4,274.2 L449.8,271.8 Z" fill="#333" stroke="#111" stroke-width="1.14" />
<ellipse cx="454.2" cy="269.3" rx="1.5" ry="1.2" transform="rotate(0 454.2 269.3)" fill="#999" stroke="#666" stroke-width="0.57"/>
<path d="M206.9,428.9 L208.3,427.1 L212.3,427.1 L213.70000000000002,428.9 L214.20000000000002,432.1 L212.9,433.8 L207.70000000000002,433.8 L206.4,432.1 Z" fill="#2a2a2a" stroke="#111" stroke-width="0.95" />
<ellipse cx="210.3" cy="429.9" rx="1.1" ry="0.8" transform="rotate(0 210.3 429.9)" fill="#888" stroke="#777" stroke-width="0.47"/>
<path d="M208.70000000000002,434.1 L208.70000000000002,440.0 M211.9,434.1 L211.9,440.0" fill="none" stroke="#0a0a0a" stroke-width="0.85" />
<path d="M224.4,418.2 L225.8,416.40000000000003 L229.8,416.40000000000003 L231.20000000000002,418.2 L231.70000000000002,421.40000000000003 L230.4,423.1 L225.20000000000002,423.1 L223.9,421.40000000000003 Z" fill="#2a2a2a" stroke="#111" stroke-width="0.95" />
<ellipse cx="227.8" cy="419.2" rx="1.1" ry="0.8" transform="rotate(0 227.8 419.2)" fill="#888" stroke="#777" stroke-width="0.47"/>
<path d="M226.20000000000002,423.40000000000003 L226.20000000000002,429.3 M229.4,423.40000000000003 L229.4,429.3" fill="none" stroke="#0a0a0a" stroke-width="0.85" />
<path d="M786.6,727.4 L788,725.6 L792,725.6 L793.4,727.4 L793.9,730.6 L792.6,732.3 L787.4,732.3 L786.1,730.6 Z" fill="#2a2a2a" stroke="#111" stroke-width="0.95" />
<ellipse cx="790" cy="728.4" rx="1.1" ry="0.8" transform="rotate(0 790 728.4)" fill="#888" stroke="#777" stroke-width="0.47"/>
<path d="M788.4,732.6 L788.4,738.5 M791.6,732.6 L791.6,738.5" fill="none" stroke="#0a0a0a" stroke-width="0.85" />
<path d="M804.0,716.4 L805.4,714.6 L809.4,714.6 L810.8,716.4 L811.3,719.6 L810.0,721.3 L804.8,721.3 L803.5,719.6 Z" fill="#2a2a2a" stroke="#111" stroke-width="0.95" />
<ellipse cx="807.4" cy="717.4" rx="1.1" ry="0.8" transform="rotate(0 807.4 717.4)" fill="#888" stroke="#777" stroke-width="0.47"/>
<path d="M805.8,721.6 L805.8,727.5 M809.0,721.6 L809.0,727.5" fill="none" stroke="#0a0a0a" stroke-width="0.85" />
<path d="M206,487 L206,522 L210.5,526.5 L215,522 L215,487" fill="#fff" stroke="#0a0a0a" stroke-width="1.19" />
<path d="M206,487 Q210.5,484 215,487" fill="none" stroke="#111" stroke-width="1.71" />
<path d="M206,522 Q210.5,524.5 215,522" fill="none" stroke="#0a0a0a" stroke-width="0.95" />
<path d="M223,476 L223,512 L227.5,516.5 L232,512 L232,476" fill="#fff" stroke="#0a0a0a" stroke-width="1.19" />
<path d="M223,476 Q227.5,473 232,476" fill="none" stroke="#111" stroke-width="1.71" />
<path d="M223,512 Q227.5,514.5 232,512" fill="none" stroke="#0a0a0a" stroke-width="0.95" />
<path d="M784.5,797 L784.5,832 L789.75,836.5 L795,832 L795,797" fill="#fff" stroke="#0a0a0a" stroke-width="1.19" />
<path d="M784.5,797 Q789.75,794 795,797" fill="none" stroke="#111" stroke-width="1.71" />
<path d="M784.5,832 Q789.75,834.5 795,832" fill="none" stroke="#0a0a0a" stroke-width="0.95" />
<path d="M802,787 L802,822 L807.5,826.5 L813,822 L813,787" fill="#fff" stroke="#0a0a0a" stroke-width="1.19" />
<path d="M802,787 Q807.5,784 813,787" fill="none" stroke="#111" stroke-width="1.71" />
<path d="M802,822 Q807.5,824.5 813,822" fill="none" stroke="#0a0a0a" stroke-width="0.95" />
<ellipse cx="856.4" cy="641" rx="2.6" ry="2.0" transform="rotate(30 856.4 641)" fill="#333" stroke="#111" stroke-width="1.90"/>
<path d="M436.4,332.8 L438.2,321.0 Q438.5,319.0 440.7,318.4 L508.9,258.9" fill="none" stroke="#0a0a0a" stroke-width="1.19" />
<path d="M508.9,258.9 L545.7,280.8 Q548.9,282.9 550.2,285.6 L559.6,303.2" fill="none" stroke="#0a0a0a" stroke-width="1.19" />
<path d="M559.6,303.2 L490.0,363.2" fill="none" stroke="#0a0a0a" stroke-width="1.19" />
<path d="M440.7,318.7 L474.8,338.4 Q479.1,340.8 481.2,344.8 L490.0,363.2" fill="none" stroke="#0a0a0a" stroke-width="1.19" />
<path d="M480.1,340.5 L543.6,284.0" fill="none" stroke="#0a0a0a" stroke-width="1.19" />
<path d="M447.1,323.5 L446.2,328.0 L436.4,332.8" fill="none" stroke="#0a0a0a" stroke-width="1.09" />
<ellipse cx="492.08" cy="300.32" rx="2.3" ry="1.6" transform="rotate(0 492.08 300.32)" fill="none" stroke="#0a0a0a" stroke-width="1.42"/>
<path d="M465.2,321.9 Q467.6,323.8 470.5,321.9" fill="none" stroke="#0a0a0a" stroke-width="1.42" />
<path d="M209.6,473.9 C209.2,473.8 208.8,473.8 207.5,473.3 C206.2,472.9 203.2,472.1 201.9,471.2 C200.6,470.4 200.1,469.7 199.7,468.3 C199.2,466.9 199.2,464.4 199.1,462.7 C199.0,460.9 199.0,459.3 199.2,457.8 C199.5,456.3 199.6,454.7 200.5,453.7 C201.4,452.8 203.2,452.1 204.7,451.9 C206.2,451.8 208.2,452.2 209.6,452.9 C211.0,453.6 212.3,454.8 213.1,455.8 C213.9,456.9 214.1,458.2 214.2,459.2 C214.3,460.2 213.9,461.5 213.8,462.0" fill="none" stroke="#0a0a0a" stroke-width="1.42" />
<path d="M209.6,473.9 C210.3,473.5 212.6,472.4 213.8,471.4 C215.0,470.5 215.7,469.5 216.6,468.4 C217.5,467.4 218.3,466.2 219.4,465.1 C220.5,464.1 221.3,463.2 222.9,462.4 C224.5,461.7 227.2,461.3 229.2,460.7 C231.2,460.2 233.2,459.9 234.8,459.2 C236.4,458.5 238.0,457.4 239.0,456.4 C240.0,455.3 240.3,454.3 240.5,452.9 C240.8,451.5 240.3,449.4 240.5,448.0 C240.8,446.6 241.7,445.2 241.9,444.6" fill="none" stroke="#0a0a0a" stroke-width="1.42" />
<path d="M214.5,462.8 C215.1,462.3 216.6,460.5 218.0,459.8 C219.4,459.0 221.5,458.5 222.9,458.1 C224.3,457.8 225.8,457.9 226.4,457.8" fill="none" stroke="#0a0a0a" stroke-width="1.04" />
<path d="M232.0,452.9 C232.6,452.5 234.3,451.3 235.5,450.8 C236.7,450.3 238.4,450.2 239.0,450.1" fill="none" stroke="#0a0a0a" stroke-width="0.85" />
<path d="M213.8,454.4 L242.6,439.6" fill="none" stroke="#0a0a0a" stroke-width="1.33" />
<path d="M215.2,457.2 L244.0,442.5" fill="none" stroke="#0a0a0a" stroke-width="1.33" />
<path d="M231.7,443.1 C231.6,442.4 231.0,440.3 231.3,438.9 C231.6,437.5 232.2,435.8 233.4,434.8 C234.6,433.9 236.7,433.3 238.3,433.3 C239.9,433.3 241.8,433.9 243.2,434.7 C244.6,435.5 245.9,436.9 246.7,438.2 C247.5,439.5 248.2,441.3 248.1,442.4 C248.0,443.5 246.6,444.3 246.3,444.6" fill="none" stroke="#000" stroke-width="2.47" />
<path d="M243.2,440.3 C243.4,440.6 244.5,441.7 244.6,442.4 C244.7,443.1 244.0,444.1 243.9,444.5" fill="none" stroke="#0a0a0a" stroke-width="1.14" />
<ellipse cx="210.44" cy="465.64" rx="2.0" ry="2.2" transform="rotate(0 210.44 465.64)" fill="#222" stroke="#000" stroke-width="1.14"/>
<ellipse cx="228.15" cy="456.12" rx="1.6" ry="1.0" transform="rotate(0 228.15 456.12)" fill="#222" stroke="#000" stroke-width="0.95"/>
<path d="M771,759 Q772,756 776,756 L808,740 Q813,741 816,747 Q820,755 818.5,763 Q817,768 813,769 L788,783 Q783,784 780,781 Q777,777 777,770 Q776,765 771,762 Z" fill="none" stroke="#0a0a0a" stroke-width="1.33" />
<path d="M808,740 Q813,741 816,747 Q820,755 818.5,763 Q817,768 813,769" fill="none" stroke="#111" stroke-width="2.09" />
<path d="M776,756 Q781,759 783,768 Q785,776 785,782 M784,769 L809,756 M786,776 L811,762" fill="none" stroke="#0a0a0a" stroke-width="1.04" />
<ellipse cx="466" cy="455.5" rx="9.3" ry="15" transform="rotate(-41 466 455.5)" fill="none" stroke="#0a0a0a" stroke-width="1.38"/>
<path d="M457.0,444.0 L474.0,429.5" fill="none" stroke="#0a0a0a" stroke-width="1.19" />
<path d="M477.0,466.3 L494.0,451.0" fill="none" stroke="#0a0a0a" stroke-width="1.19" />
<path d="M474.0,429.5 C475.3,429.9 479.5,430.4 482.0,432.0 C484.5,433.6 487.2,436.7 489.0,439.0 C490.8,441.3 492.2,444.0 493.0,446.0 C493.8,448.0 493.7,450.2 493.8,451.0" fill="none" stroke="#0a0a0a" stroke-width="1.14" />
<path d="M481.0,420.5 L491.0,412.0 L515.0,391.0 L540.0,370.0 L565.5,348.0" fill="none" stroke="#0a0a0a" stroke-width="1.19" />
<path d="M494.0,451.0 L534.0,417.0 L555.0,399.0 L585.0,374.0" fill="none" stroke="#0a0a0a" stroke-width="1.19" />
<path d="M565.5,348.0 C566.2,348.0 568.4,347.3 570.0,348.0 C571.6,348.7 573.2,350.2 575.0,352.0 C576.8,353.8 578.9,356.4 580.5,358.5 C582.1,360.6 583.9,362.7 584.8,364.5 C585.7,366.3 586.0,367.9 586.0,369.5 C586.0,371.1 585.2,373.2 585.0,374.0" fill="none" stroke="#0a0a0a" stroke-width="1.19" />
<path d="M575.5,350.5 L582.0,344.0" fill="none" stroke="#0a0a0a" stroke-width="1.19" />
<path d="M585.7,360.5 L595.5,352.3" fill="none" stroke="#0a0a0a" stroke-width="1.19" />
<ellipse cx="609.5" cy="344.5" rx="9.3" ry="14.5" transform="rotate(22 609.5 344.5)" fill="none" stroke="#0a0a0a" stroke-width="1.23"/>
<ellipse cx="609.8" cy="344.2" rx="6.0" ry="9.6" transform="rotate(22 609.8 344.2)" fill="none" stroke="#000" stroke-width="1.90"/>
<path d="M579.5,336.7 L579.6,335.4 L579.8,334.0 L580.1,332.7 L580.4,331.3 L580.9,330.0 L581.5,328.6 L582.1,327.4 L582.8,326.2 L583.5,325.0 L584.4,323.9 L585.2,322.9 L586.2,322.1 L587.1,321.3 L588.1,320.6 L589.1,320.0 L590.1,319.6 L591.1,319.3 L592.1,319.1 L593.0,319.1 L594.0,319.2 L594.8,319.4 L595.7,319.8 L596.5,320.3 L597.2,320.9" fill="none" stroke="#0a0a0a" stroke-width="1.23" />
<path d="M597.2,320.9 L617.0,332.4" fill="none" stroke="#0a0a0a" stroke-width="1.23" />
<path d="M581.0,339.0 C582.0,339.2 584.8,339.2 587.0,340.0 C589.2,340.8 592.3,342.3 594.0,344.0 C595.7,345.7 596.0,347.7 597.0,350.0 C598.0,352.3 599.1,356.8 600.0,358.0 C600.9,359.2 602.2,357.3 602.7,357.1" fill="none" stroke="#0a0a0a" stroke-width="1.14" />
<path d="M580.0,333.0 L581.0,339.0" fill="none" stroke="#0a0a0a" stroke-width="1.14" />
<ellipse cx="596.5" cy="326.3" rx="2.2" ry="1.5" transform="rotate(-25 596.5 326.3)" fill="#555" stroke="#111" stroke-width="1.14"/>
<path d="M600.0,325.5 L603.5,327.0" fill="none" stroke="#0a0a0a" stroke-width="0.95" />
<path d="M515.1,389.4 L516.1,397.6 Q518.3,400 520.7,397.4 L519.7,389.2 Q517.5,388 515.1,389.4 Z" fill="#fff" stroke="#0a0a0a" stroke-width="1.04" />
<path d="M515.3,391.4 Q517.5,392.8 519.8,391.2" fill="none" stroke="#0a0a0a" stroke-width="0.85" />
<path d="M490.3,410.4 L491.3,418.6 Q493.5,421 495.9,418.4 L494.9,410.2 Q492.7,409 490.3,410.4 Z" fill="#fff" stroke="#0a0a0a" stroke-width="1.04" />
<path d="M490.5,412.4 Q492.7,413.8 495.0,412.2" fill="none" stroke="#0a0a0a" stroke-width="0.85" />
<path d="M541,401 Q540.5,398 544,398.6 L549.5,403.5 Q551,408 547,409.5 Q543,410 541.5,406 Z" fill="#fff" stroke="#0a0a0a" stroke-width="1.19" />
<ellipse cx="553.2" cy="405.5" rx="2.6" ry="4.2" transform="rotate(20 553.2 405.5)" fill="#555" stroke="#000" stroke-width="1.90"/>
<path d="M468.5,425 Q467.5,420.5 472,420 L477.5,423.5 Q478.5,427.5 475,428.5 Q471,429.5 468.5,425 Z" fill="#fff" stroke="#0a0a0a" stroke-width="1.19" />
<path d="M476.5,419.5 L480,417 L484,419 L483.5,423 L479.5,425.5 Z" fill="#666" stroke="#000" stroke-width="1.23" />
<ellipse cx="472.2" cy="438" rx="3.4" ry="2.9" transform="rotate(-30 472.2 438)" fill="#3a3a3a" stroke="#000" stroke-width="1.33"/>
<path d="M480.0,459.0 C480.1,458.1 479.9,455.3 480.6,453.5 C481.4,451.7 483.0,449.0 484.5,448.3 C486.0,447.6 488.7,448.4 489.5,449.5 C490.3,450.6 489.3,454.1 489.3,455.0" fill="none" stroke="#0a0a0a" stroke-width="1.14" />
<path d="M119.6,525.4 L125.0,556.0 L125.2,585.0 L118.6,612.0" fill="none" stroke="#0a0a0a" stroke-width="1.19" />
<path d="M118.6,612.0 L179.0,646.0" fill="none" stroke="#0a0a0a" stroke-width="1.19" />
<path d="M120.0,525.0 L181.0,558.0" fill="none" stroke="#0a0a0a" stroke-width="1.19" />
<path d="M120.6,528.4 L179.4,560.4" fill="none" stroke="#0a0a0a" stroke-width="1.04" />
<path d="M181.0,558.0 L187.2,589.6 L187.8,618.4 L182.0,645.0 L179.0,646.0" fill="none" stroke="#0a0a0a" stroke-width="1.19" />
<path d="M179.4,560.4 L184.4,589.6 L185.0,618.0 L178.6,645.6" fill="none" stroke="#0a0a0a" stroke-width="1.04" />
<path d="M125.0,556.0 L184.4,588.4" fill="none" stroke="#0a0a0a" stroke-width="1.19" />
<path d="M125.2,585.0 L185.2,617.4" fill="none" stroke="#0a0a0a" stroke-width="1.19" />
<path d="M126.0,527.6 C126.5,527.3 127.9,525.9 129.0,526.0 C130.1,526.1 131.8,528.0 132.4,528.4" fill="none" stroke="#0a0a0a" stroke-width="2.09" />
<path d="M168.6,551.6 C169.2,551.4 170.9,549.9 172.0,550.2 C173.1,550.5 174.7,552.7 175.2,553.2" fill="none" stroke="#0a0a0a" stroke-width="2.09" />
<path d="M185.6,570.4 C187.3,570.5 191.3,570.5 196.0,571.0 C200.7,571.5 208.3,572.8 214.0,573.6 C219.7,574.4 227.3,575.6 230.0,576.0" fill="none" stroke="#0a0a0a" stroke-width="1.19" />
<path d="M230.0,576.0 Q239.0,578.0 241.4,585.0 L241.4,589.4" fill="none" stroke="#0a0a0a" stroke-width="1.19" />
<path d="M241.4,585.0 L219.0,599.6 L210.0,600.0 L191.0,590.4 L187.0,590.4" fill="none" stroke="#0a0a0a" stroke-width="1.19" />
<path d="M241.4,589.4 L219.0,604.0 L210.0,604.4 L191.0,594.8 L187.6,594.8" fill="none" stroke="#0a0a0a" stroke-width="1.19" />
<path d="M219.0,599.6 L219.0,604.0" fill="none" stroke="#0a0a0a" stroke-width="0.95" />
<ellipse cx="228.0" cy="582.0" rx="4.6" ry="2.8" transform="rotate(0 228.0 582.0)" fill="none" stroke="#0a0a0a" stroke-width="1.23"/>
<ellipse cx="210.4" cy="593.0" rx="4.6" ry="2.8" transform="rotate(0 210.4 593.0)" fill="none" stroke="#0a0a0a" stroke-width="1.23"/>
<path d="M241.4,600.0 L241.4,605.6 L218.0,621.0 L210.0,622.0 L188.0,609.0" fill="none" stroke="#0a0a0a" stroke-width="1.19" />
<path d="M241.4,601.0 L218.0,616.4 L210.0,617.0 L189.0,605.0" fill="none" stroke="#0a0a0a" stroke-width="1.19" />
<path d="M218.0,616.4 L218.0,621.0" fill="none" stroke="#0a0a0a" stroke-width="0.95" />
<path d="M204.4,604.0 C204.4,605.2 203.5,609.4 204.4,611.0 C205.3,612.6 208.1,613.6 210.0,613.6 C211.9,613.6 215.0,612.5 216.0,611.0 C217.0,609.5 216.0,605.5 216.0,604.4" fill="none" stroke="#0a0a0a" stroke-width="1.04" />
<path d="M204.4,608.0 C205.3,607.6 208.1,605.6 210.0,605.6 C211.9,605.6 215.0,607.6 216.0,608.0" fill="none" stroke="#0a0a0a" stroke-width="0.95" />
<path d="M224.0,598.0 C224.1,598.6 223.4,600.7 224.4,601.6 C225.4,602.5 228.1,603.7 230.0,603.6 C231.9,603.5 234.7,602.6 235.6,601.0 C236.5,599.4 235.6,595.2 235.6,594.0" fill="none" stroke="#0a0a0a" stroke-width="1.04" />
<path d="M224.4,600.0 C225.3,599.6 228.2,597.7 230.0,597.6 C231.8,597.5 234.2,598.9 235.0,599.2" fill="none" stroke="#0a0a0a" stroke-width="0.95" />
<path d="M258.0,605.3 L340.0,649.7 L430.0,700.5 L500.0,742.0 L569.3,782.8" fill="none" stroke="#0a0a0a" stroke-width="1.23" />
<path d="M260.5,609.3 L340.0,653.0 L430.0,703.8 L500.0,745.3 L569.3,785.3" fill="none" stroke="#0a0a0a" stroke-width="1.04" />
<path d="M264.5,635.5 L330.0,673.5 L410.0,719.5 L500.0,772.0 L574.0,813.5" fill="none" stroke="#0a0a0a" stroke-width="1.19" />
<path d="M264.0,666.0 L330.0,703.0 L400.0,743.5 L576.5,842.0" fill="none" stroke="#0a0a0a" stroke-width="1.19" />
<path d="M258.0,690.0 L394.0,770.0 L569.0,869.3" fill="none" stroke="#0a0a0a" stroke-width="1.23" />
<path d="M258.5,605.5 L264.5,635.5 L264.0,666.0 L258.0,690.0" fill="none" stroke="#0a0a0a" stroke-width="1.23" />
<path d="M569.0,784.0 L574.5,813.0 L577.0,842.0 L569.0,869.0" fill="none" stroke="#0a0a0a" stroke-width="1.23" />
<path d="M572.0,782.5 L577.5,813.0 L579.5,842.0 L572.5,866.5" fill="none" stroke="#0a0a0a" stroke-width="1.04" />
<path d="M265.5,606.5 C266.2,605.6 267.9,602.4 270.0,601.2 C272.1,600.1 276.7,599.9 278.0,599.6" fill="none" stroke="#0a0a0a" stroke-width="1.90" />
<path d="M278.0,599.6 L313.5,602.6" fill="none" stroke="#0a0a0a" stroke-width="1.90" />
<path d="M313.5,602.6 C314.1,602.8 316.2,603.3 317.0,604.0 C317.8,604.7 317.8,604.2 318.0,607.0 C318.2,609.8 317.6,617.5 318.0,621.0 C318.4,624.5 320.3,626.0 320.5,628.0 C320.7,630.0 319.6,631.7 319.0,633.0 C318.4,634.3 317.3,635.5 317.0,636.0" fill="none" stroke="#0a0a0a" stroke-width="1.90" />
<path d="M274.0,610.5 C275.0,610.2 277.8,608.9 280.0,608.5 C282.2,608.1 285.8,608.2 287.0,608.2" fill="none" stroke="#0a0a0a" stroke-width="1.14" />
<path d="M293.0,623.0 C294.0,622.2 297.0,619.5 299.0,618.5 C301.0,617.5 303.2,617.2 305.0,617.0 C306.8,616.8 309.2,617.4 310.0,617.5" fill="none" stroke="#0a0a0a" stroke-width="1.14" />
<ellipse cx="306.2" cy="624.7" rx="4.2" ry="2.5" transform="rotate(0 306.2 624.7)" fill="none" stroke="#0a0a0a" stroke-width="1.71"/>
<path d="M301.0,625.0 C301.5,625.5 302.5,627.3 304.0,627.8 C305.5,628.3 307.8,628.3 310.0,627.8 C312.2,627.3 315.8,625.5 317.0,625.0" fill="none" stroke="#0a0a0a" stroke-width="0.95" />
<path d="M572.8,782.4 C573.6,781.9 576.0,780.1 577.6,779.2 C579.2,778.3 581.6,777.3 582.4,777.0" fill="none" stroke="#0a0a0a" stroke-width="1.61" />
<path d="M582.4,777.0 L615.2,778.4" fill="none" stroke="#0a0a0a" stroke-width="1.61" />
<path d="M615.2,778.4 C616.3,778.9 620.1,780.0 621.6,781.6 C623.1,783.2 623.9,785.5 624.5,788.0 C625.0,790.5 624.9,795.3 625.0,796.8" fill="none" stroke="#0a0a0a" stroke-width="1.61" />
<path d="M625.0,796.8 L625.0,816.0 L616.8,829.1 L572.0,864.0" fill="none" stroke="#0a0a0a" stroke-width="1.61" />
<path d="M577.6,813.6 L613.6,792.8 L614.1,817.9 L578.7,840.0" fill="none" stroke="#0a0a0a" stroke-width="1.33" />
<path d="M580.3,817.9 L611.2,799.7 L611.4,816.0" fill="none" stroke="#0a0a0a" stroke-width="1.04" />
<path d="M611.4,816.0 L604.0,812.0" fill="none" stroke="#0a0a0a" stroke-width="0.95" />
<path d="M580.3,836.5 L611.4,816.3" fill="none" stroke="#0a0a0a" stroke-width="0.95" />
<path d="M577.9,814.4 L578.7,840.0" fill="none" stroke="#0a0a0a" stroke-width="1.14" />
<path d="M580.3,791.2 C580.7,790.6 581.1,788.5 582.4,787.5 C583.7,786.6 585.9,785.8 588.0,785.6 C590.1,785.4 593.5,785.7 595.2,786.4 C596.9,787.1 598.2,788.3 598.4,789.6 C598.6,790.9 597.7,793.1 596.3,794.4 C595.0,795.7 592.5,796.9 590.4,797.1 C588.3,797.4 585.7,797.0 584.0,796.0 C582.3,795.0 580.9,792.0 580.3,791.2" fill="none" stroke="#0a0a0a" stroke-width="1.42" />
<ellipse cx="592.0" cy="790.4" rx="2.0" ry="2.6" transform="rotate(20 592.0 790.4)" fill="none" stroke="#0a0a0a" stroke-width="1.04"/>
<ellipse cx="593.6" cy="816.0" rx="4.4" ry="2.8" transform="rotate(0 593.6 816.0)" fill="none" stroke="#0a0a0a" stroke-width="1.23"/>
<path d="M579.2,823.4 L579.5,823.4 L579.9,823.5 L580.2,823.6 L580.5,823.7 L580.8,823.9 L581.0,824.0 L581.3,824.3 L581.5,824.5 L581.6,824.8 L581.7,825.0 L581.8,825.3 L581.8,825.6 L581.8,825.9 L581.7,826.2 L581.6,826.4 L581.5,826.7 L581.3,826.9 L581.0,827.2 L580.8,827.3 L580.5,827.5 L580.2,827.6 L579.9,827.7 L579.5,827.8 L579.2,827.8" fill="none" stroke="#0a0a0a" stroke-width="1.04" />
<path d="M511.0,747.5 C511.5,746.6 512.8,742.4 514.0,742.0 C515.2,741.6 517.2,743.3 518.0,745.0 C518.8,746.7 518.4,750.8 518.5,752.0" fill="none" stroke="#0a0a0a" stroke-width="1.14" />
<path d="M356.5,659.0 C358.4,658.5 364.1,657.4 368.0,656.2 C371.9,655.0 376.3,653.3 380.0,652.0 C383.7,650.7 386.7,649.8 390.0,648.6 C393.3,647.4 396.7,646.4 400.0,645.0 C403.3,643.6 406.7,642.0 410.0,640.3 C413.3,638.6 416.7,636.8 420.0,635.0 C423.3,633.2 428.3,630.4 430.0,629.5" fill="none" stroke="#0a0a0a" stroke-width="1.19" />
<path d="M430.0,629.5 L494.0,587.0 L578.0,530.0 L632.0,491.0" fill="none" stroke="#0a0a0a" stroke-width="1.19" />
<path d="M361.0,661.5 C362.8,661.2 368.2,660.6 372.0,659.7 C375.8,658.8 380.3,657.4 384.0,656.3 C387.7,655.2 390.7,654.2 394.0,653.0 C397.3,651.8 400.7,650.7 404.0,649.3 C407.3,647.9 410.7,646.3 414.0,644.6 C417.3,642.9 421.3,640.7 424.0,639.0 C426.7,637.3 429.0,635.1 430.0,634.3" fill="none" stroke="#0a0a0a" stroke-width="1.09" />
<path d="M430.0,634.3 L494.0,593.5 L586.0,530.0 L633.5,495.5" fill="none" stroke="#0a0a0a" stroke-width="1.09" />
<path d="M502.0,636.0 L540.0,608.5 L590.0,568.5 L635.0,534.0" fill="none" stroke="#0a0a0a" stroke-width="1.19" />
<path d="M611.5,505.0 C612.0,503.8 613.0,499.8 614.5,497.5 C616.0,495.2 618.3,492.9 620.5,491.5 C622.7,490.1 625.6,489.1 627.5,489.0 C629.4,488.9 631.2,490.4 632.0,490.7" fill="none" stroke="#0a0a0a" stroke-width="1.14" />
<path d="M632.0,491.0 C633.2,490.7 636.5,488.8 639.0,489.0 C641.5,489.2 644.9,490.6 647.0,492.0 C649.1,493.4 650.4,495.6 651.5,497.5 C652.6,499.4 653.2,502.5 653.5,503.5" fill="none" stroke="#0a0a0a" stroke-width="1.19" />
<path d="M633.5,495.3 C634.7,495.0 638.2,493.1 640.5,493.3 C642.8,493.5 645.3,494.9 647.0,496.3 C648.7,497.7 650.2,500.6 650.8,501.5" fill="none" stroke="#0a0a0a" stroke-width="1.09" />
<path d="M650.0,501.5 C649.3,501.1 647.5,499.4 646.0,498.9 C644.5,498.4 643.0,497.7 641.0,498.5 C639.0,499.3 636.3,501.5 634.0,503.5 C631.7,505.5 628.7,507.8 627.0,510.5 C625.3,513.2 624.0,516.5 624.0,519.5 C624.0,522.5 625.2,526.1 627.0,528.5 C628.8,530.9 633.2,532.7 635.0,533.7 C636.8,534.7 637.5,534.2 638.0,534.3" fill="none" stroke="#0a0a0a" stroke-width="1.19" />
<ellipse cx="646.5" cy="519.5" rx="10.6" ry="16.4" transform="rotate(24 646.5 519.5)" fill="none" stroke="#0a0a0a" stroke-width="1.38"/>
<ellipse cx="646.2" cy="519.5" rx="4.3" ry="6.5" transform="rotate(24 646.2 519.5)" fill="none" stroke="#0a0a0a" stroke-width="1.19"/>
<path d="M484.0,730.3 C486.3,730.0 493.7,729.3 498.0,728.5 C502.3,727.7 505.3,726.9 510.0,725.5 C514.7,724.1 520.7,722.6 526.0,720.4 C531.3,718.2 536.7,715.3 542.0,712.4 C547.3,709.5 553.7,705.5 558.0,702.8 C562.3,700.1 563.9,699.0 567.6,696.4 C571.3,693.8 576.3,689.9 580.0,687.0 C583.7,684.1 586.7,681.5 590.0,678.8 C593.3,676.1 598.3,672.3 600.0,671.0" fill="none" stroke="#0a0a0a" stroke-width="1.19" />
<path d="M600.0,671.0 L630.0,649.0 L717.0,590.0 L755.0,562.5" fill="none" stroke="#0a0a0a" stroke-width="1.19" />
<path d="M489.0,734.0 C491.2,733.8 497.8,733.2 502.0,732.5 C506.2,731.8 509.3,731.0 514.0,729.7 C518.7,728.4 524.7,726.8 530.0,724.6 C535.3,722.5 540.7,719.7 546.0,716.8 C551.3,713.9 557.7,709.9 562.0,707.3 C566.3,704.7 567.9,703.6 571.6,701.0 C575.3,698.4 580.3,694.5 584.0,691.7 C587.7,688.9 590.8,686.5 594.0,684.2 C597.2,681.9 601.5,679.0 603.0,678.0" fill="none" stroke="#0a0a0a" stroke-width="1.09" />
<path d="M603.0,678.0 L630.0,656.0 L726.0,590.0 L756.5,567.0" fill="none" stroke="#0a0a0a" stroke-width="1.09" />
<path d="M546.5,768.0 L648.0,690.0 L730.0,626.5 L758.0,606.0" fill="none" stroke="#0a0a0a" stroke-width="1.19" />
<path d="M734.5,576.5 C735.0,575.2 736.0,571.2 737.5,569.0 C739.0,566.8 741.3,564.4 743.5,563.0 C745.7,561.6 748.6,560.6 750.5,560.5 C752.4,560.4 754.2,561.9 755.0,562.2" fill="none" stroke="#0a0a0a" stroke-width="1.14" />
<path d="M755.0,562.5 C756.2,562.2 759.5,560.3 762.0,560.5 C764.5,560.7 767.9,562.1 770.0,563.5 C772.1,564.9 773.4,567.1 774.5,569.0 C775.6,570.9 776.2,574.0 776.5,575.0" fill="none" stroke="#0a0a0a" stroke-width="1.19" />
<path d="M756.5,566.8 C757.7,566.5 761.2,564.6 763.5,564.8 C765.8,565.0 768.3,566.4 770.0,567.8 C771.7,569.2 773.2,572.1 773.8,573.0" fill="none" stroke="#0a0a0a" stroke-width="1.09" />
<path d="M773.0,573.0 C772.3,572.6 770.5,570.9 769.0,570.4 C767.5,569.9 766.0,569.2 764.0,570.0 C762.0,570.8 759.3,573.0 757.0,575.0 C754.7,577.0 751.7,579.3 750.0,582.0 C748.3,584.7 747.0,588.0 747.0,591.0 C747.0,594.0 748.2,597.6 750.0,600.0 C751.8,602.4 756.2,604.2 758.0,605.2 C759.8,606.2 760.5,605.7 761.0,605.8" fill="none" stroke="#0a0a0a" stroke-width="1.19" />
<ellipse cx="769.5" cy="591" rx="10.6" ry="16.4" transform="rotate(24 769.5 591)" fill="none" stroke="#0a0a0a" stroke-width="1.38"/>
<path d="M772.0,594.7 L771.1,595.7 L770.0,596.5 L769.0,597.0 L767.9,597.2 L766.9,597.1 L766.1,596.7 L765.4,596.0 L764.8,595.0 L764.5,593.8 L764.5,592.5 L764.6,591.2 L765.1,589.8 L765.7,588.4 L766.5,587.3 L767.4,586.2 L768.4,585.5 L769.5,585.0 L770.5,584.8 L771.5,584.9 L772.4,585.4 L773.1,586.1 L773.6,587.1 L773.9,588.2 L773.9,589.5" fill="none" stroke="#0a0a0a" stroke-width="1.19" />
<path d="M770.0,590.5 L778.5,595.2" fill="none" stroke="#0a0a0a" stroke-width="1.23" />
<ellipse cx="480" cy="627" rx="4.4" ry="7.6" transform="rotate(25 480 627)" fill="none" stroke="#0a0a0a" stroke-width="1.14"/>
<path d="M478.1,632.8 L477.8,632.4 L477.5,631.9 L477.3,631.3 L477.2,630.7 L477.2,630.0 L477.2,629.2 L477.4,628.4 L477.6,627.6 L477.8,626.8 L478.2,625.9 L478.6,625.2 L479.0,624.4 L479.5,623.7 L480.0,623.1 L480.6,622.5 L481.2,622.1 L481.7,621.7 L482.3,621.5 L482.8,621.4 L483.3,621.3 L483.8,621.4 L484.2,621.6 L484.6,621.9 L484.9,622.3" fill="none" stroke="#0a0a0a" stroke-width="0.95" />
<ellipse cx="604" cy="698.5" rx="4.8" ry="8.2" transform="rotate(25 604 698.5)" fill="none" stroke="#0a0a0a" stroke-width="1.14"/>
<path d="M601.7,705.1 L601.2,705.3 L600.6,705.3 L600.1,705.3 L599.6,705.1 L599.2,704.8 L598.9,704.4 L598.6,703.9 L598.4,703.3 L598.3,702.6 L598.3,701.9 L598.3,701.1 L598.4,700.2 L598.6,699.4 L598.9,698.5 L599.3,697.6 L599.7,696.8 L600.2,696.0 L600.7,695.2 L601.2,694.6 L601.8,694.0 L602.4,693.5 L603.0,693.1 L603.6,692.8 L604.2,692.7" fill="none" stroke="#0a0a0a" stroke-width="0.95" />
<path d="M460.0,633.0 C458.7,633.3 454.5,633.3 452.0,635.0 C449.5,636.7 446.5,640.0 445.0,643.0 C443.5,646.0 442.8,649.7 443.0,653.0 C443.2,656.3 444.5,660.2 446.0,663.0 C447.5,665.8 450.2,668.4 452.0,669.6 C453.8,670.8 456.2,670.3 457.0,670.4" fill="none" stroke="#0a0a0a" stroke-width="1.19" />
<path d="M460.0,633.0 L493.0,650.4" fill="none" stroke="#0a0a0a" stroke-width="1.19" />
<path d="M457.0,670.4 L530.0,711.6" fill="none" stroke="#0a0a0a" stroke-width="1.19" />
<path d="M428.0,692.0 L457.0,670.6" fill="none" stroke="#0a0a0a" stroke-width="1.19" />
<path d="M362.0,661.0 C364.0,662.0 370.2,665.2 374.0,667.0 C377.8,668.8 383.2,671.2 385.0,672.0" fill="none" stroke="#0a0a0a" stroke-width="1.04" />
<path d="M382,672.5 L390,672 Q393,672 396,674 L484,727" fill="none" stroke="#0a0a0a" stroke-width="1.09" />
<path d="M385.0,675.0 L480.0,730.0" fill="none" stroke="#0a0a0a" stroke-width="0.95" />
<path d="M530.0,711.6 C530.8,711.7 533.3,712.3 535.0,712.0 C536.7,711.7 539.2,710.3 540.0,710.0" fill="none" stroke="#0a0a0a" stroke-width="1.04" />
<path d="M505.2,658.0 C507.1,656.4 512.8,651.6 516.4,648.4 C520.0,645.2 523.9,640.6 526.8,638.8 C529.7,637.0 531.8,636.7 534.0,637.5 C536.2,638.4 539.0,641.2 540.1,643.9 C541.2,646.7 541.4,650.5 540.7,654.0 C540.0,657.5 538.0,662.3 535.9,665.2 C533.9,668.1 529.7,670.5 528.4,671.6" fill="none" stroke="#0a0a0a" stroke-width="1.23" />
<path d="M505.2,658.0 L528.4,671.6" fill="none" stroke="#0a0a0a" stroke-width="1.14" />
<path d="M495.3,657.7 C497.7,655.7 505.4,649.5 510.0,646.0 C514.6,642.5 519.1,638.1 522.8,636.4 C526.5,634.7 530.8,635.7 532.4,635.6" fill="none" stroke="#0a0a0a" stroke-width="1.09" />
<path d="M495.3,657.7 C495.2,658.1 494.3,659.5 494.8,660.2 C495.3,660.9 496.9,661.7 498.0,661.8 C499.1,661.9 500.0,661.5 501.2,660.9 C502.4,660.2 504.5,658.5 505.2,658.0" fill="none" stroke="#0a0a0a" stroke-width="1.14" />
<ellipse cx="526.8" cy="654.0" rx="4.3" ry="6.6" transform="rotate(25 526.8 654.0)" fill="none" stroke="#0a0a0a" stroke-width="1.33"/>
<path d="M524.2,659.5 L523.8,659.6 L523.4,659.5 L523.0,659.3 L522.7,659.1 L522.4,658.8 L522.2,658.4 L522.0,657.9 L521.9,657.4 L521.9,656.9 L521.9,656.3 L521.9,655.6 L522.1,655.0 L522.3,654.3 L522.5,653.7 L522.8,653.0 L523.1,652.4 L523.5,651.8 L523.9,651.3 L524.3,650.8 L524.8,650.4 L525.2,650.0 L525.7,649.8 L526.2,649.6 L526.6,649.5" fill="none" stroke="#0a0a0a" stroke-width="0.95" />
<path d="M537.7,676.5 C539.6,674.9 545.3,670.1 548.9,666.9 C552.5,663.7 556.4,659.1 559.3,657.3 C562.2,655.5 564.3,655.2 566.5,656.0 C568.7,656.9 571.5,659.7 572.6,662.4 C573.7,665.2 573.9,669.0 573.2,672.5 C572.5,676.0 570.5,680.8 568.4,683.7 C566.4,686.6 562.2,689.0 560.9,690.1" fill="none" stroke="#0a0a0a" stroke-width="1.23" />
<path d="M537.7,676.5 L560.9,690.1" fill="none" stroke="#0a0a0a" stroke-width="1.14" />
<path d="M527.8,676.2 C530.2,674.2 537.9,668.0 542.5,664.5 C547.1,661.0 551.6,656.6 555.3,654.9 C559.0,653.2 563.3,654.2 564.9,654.1" fill="none" stroke="#0a0a0a" stroke-width="1.09" />
<path d="M527.8,676.2 C527.7,676.6 526.8,678.0 527.3,678.7 C527.8,679.4 529.4,680.2 530.5,680.3 C531.6,680.4 532.5,680.0 533.7,679.4 C534.9,678.7 537.0,677.0 537.7,676.5" fill="none" stroke="#0a0a0a" stroke-width="1.14" />
<ellipse cx="559.3" cy="672.5" rx="4.3" ry="6.6" transform="rotate(25 559.3 672.5)" fill="none" stroke="#0a0a0a" stroke-width="1.33"/>
<path d="M556.7,678.0 L556.3,678.1 L555.9,678.0 L555.5,677.8 L555.2,677.6 L554.9,677.3 L554.7,676.9 L554.5,676.4 L554.4,675.9 L554.4,675.4 L554.4,674.8 L554.4,674.1 L554.6,673.5 L554.8,672.8 L555.0,672.2 L555.3,671.5 L555.6,670.9 L556.0,670.3 L556.4,669.8 L556.8,669.3 L557.3,668.9 L557.7,668.5 L558.2,668.3 L558.7,668.1 L559.1,668.0" fill="none" stroke="#0a0a0a" stroke-width="0.95" />
<path d="M560.4,671.4 L570.0,676.5" fill="none" stroke="#0a0a0a" stroke-width="0.95" />
<path d="M558.5,673.8 L567.3,678.4" fill="none" stroke="#0a0a0a" stroke-width="0.95" />
<path d="M559.5,691.0 L566.0,694.0" fill="none" stroke="#0a0a0a" stroke-width="1.04" />
<path d="M638.0,824.0 L642.4,856.4 L644.0,885.0 L637.0,911.0" fill="none" stroke="#0a0a0a" stroke-width="1.23" />
<path d="M637.0,911.0 L697.0,944.0" fill="none" stroke="#0a0a0a" stroke-width="1.23" />
<path d="M638.0,824.0 L698.0,858.0" fill="none" stroke="#0a0a0a" stroke-width="1.33" />
<path d="M639.2,827.2 L697.0,860.4" fill="none" stroke="#0a0a0a" stroke-width="1.04" />
<path d="M698.0,858.0 L702.0,888.0 L703.2,916.0 L697.0,944.0" fill="none" stroke="#0a0a0a" stroke-width="1.19" />
<path d="M700.0,858.4 L704.4,888.0 L705.6,916.0 L699.0,943.0" fill="none" stroke="#0a0a0a" stroke-width="1.04" />
<path d="M642.4,856.4 L701.6,887.4" fill="none" stroke="#0a0a0a" stroke-width="1.19" />
<path d="M644.0,885.0 L703.2,916.0" fill="none" stroke="#0a0a0a" stroke-width="1.19" />
<path d="M699.6,857.2 L703.0,857.4 Q705.2,857.8 706.4,860.0 L715.2,877.6 Q716.8,880.8 717.0,885.0 L717.4,909.0 Q717.4,913.0 715.6,917.0 L700.0,942.4" fill="none" stroke="#0a0a0a" stroke-width="1.19" />
<path d="M638.4,834.4 L628.0,840.0 L628.0,846.4 L641.0,852.0" fill="none" stroke="#0a0a0a" stroke-width="1.19" />
<path d="M628.0,840.0 L640.0,845.6" fill="none" stroke="#0a0a0a" stroke-width="0.95" />
<path d="M642.0,852.4 L628.0,858.0 L628.0,864.0 L642.4,870.4" fill="none" stroke="#0a0a0a" stroke-width="1.19" />
<path d="M628.0,858.0 L642.0,864.0" fill="none" stroke="#0a0a0a" stroke-width="0.95" />
<path d="M637.0,847.0 L637.0,861.0" fill="none" stroke="#0a0a0a" stroke-width="0.95" />
<path d="M652.0,829.4 C652.8,828.8 655.0,826.3 657.0,825.6 C659.0,824.9 661.7,824.6 664.0,825.0 C666.3,825.4 668.8,826.3 671.0,828.0 C673.2,829.7 675.5,832.2 677.0,835.0 C678.5,837.8 679.5,843.3 680.0,845.0" fill="none" stroke="#0a0a0a" stroke-width="1.19" />
<ellipse cx="662.4" cy="833.2" rx="3.4" ry="2.2" transform="rotate(20 662.4 833.2)" fill="none" stroke="#111" stroke-width="1.71"/>
<text transform="translate(761.0 41.0) scale(1.0 1)" x="0" y="0" text-anchor="middle" font-size="16.3">1</text>
<text transform="translate(785.5 57.0) scale(1.0 1)" x="0" y="0" text-anchor="middle" font-size="16.3">11</text>
<text transform="translate(510.0 106.0) scale(1.0 1)" x="0" y="0" text-anchor="middle" font-size="16.3">11</text>
<text transform="translate(535.8 119.7) scale(1.0 1)" x="0" y="0" text-anchor="middle" font-size="16.3">1</text>
<text transform="translate(577.0 146.8) scale(1.0 1)" x="0" y="0" text-anchor="middle" font-size="16.3">3</text>
<text transform="translate(427.5 259.0) scale(1.0 1)" x="0" y="0" text-anchor="middle" font-size="16.3">13</text>
<text transform="translate(552.5 262.0) scale(1.0 1)" x="0" y="0" text-anchor="middle" font-size="16.3">14</text>
<text transform="translate(624.5 311.0) scale(1.0 1)" x="0" y="0" text-anchor="middle" font-size="16.3">11</text>
<text transform="translate(649.0 326.0) scale(1.0 1)" x="0" y="0" text-anchor="middle" font-size="16.3">1</text>
<text transform="translate(770.5 358.0) scale(1.0 1)" x="0" y="0" text-anchor="middle" font-size="16.3">1</text>
<text transform="translate(798.0 373.0) scale(1.0 1)" x="0" y="0" text-anchor="middle" font-size="16.3">11</text>
<text transform="translate(196.5 399.0) scale(1.0 1)" x="0" y="0" text-anchor="middle" font-size="16.3">12</text>
<text transform="translate(281.5 448.0) scale(1.0 1)" x="0" y="0" text-anchor="middle" font-size="16.3">7</text>
<text transform="translate(558.0 438.0) scale(1.0 1)" x="0" y="0" text-anchor="middle" font-size="16.3">15</text>
<text transform="translate(414.8 475.2) scale(1.0 1)" x="0" y="0" text-anchor="middle" font-size="16.3">11</text>
<text transform="translate(438.7 488.0) scale(1.0 1)" x="0" y="0" text-anchor="middle" font-size="16.3">1</text>
<text transform="translate(469.6 507.2) scale(1.0 1)" x="0" y="0" text-anchor="middle" font-size="16.3">2</text>
<text transform="translate(266.5 525.0) scale(1.0 1)" x="0" y="0" text-anchor="middle" font-size="16.3">6</text>
<text transform="translate(630.5 598.0) scale(1.0 1)" x="0" y="0" text-anchor="middle" font-size="16.3">1</text>
<text transform="translate(655.0 613.0) scale(1.0 1)" x="0" y="0" text-anchor="middle" font-size="16.3">11</text>
<text transform="translate(840.5 604.0) scale(1.0 1)" x="0" y="0" text-anchor="middle" font-size="16.3">9</text>
<text transform="translate(882.5 632.0) scale(1.0 1)" x="0" y="0" text-anchor="middle" font-size="16.3">10</text>
<text transform="translate(125.0 650.0) scale(1.0 1)" x="0" y="0" text-anchor="middle" font-size="16.3">4</text>
<text transform="translate(756.5 703.0) scale(1.0 1)" x="0" y="0" text-anchor="middle" font-size="16.3">12</text>
<text transform="translate(852.5 765.0) scale(1.0 1)" x="0" y="0" text-anchor="middle" font-size="16.3">7</text>
<text transform="translate(381.8 798.0) scale(1.0 1)" x="0" y="0" text-anchor="middle" font-size="16.3">8</text>
<text transform="translate(847.5 833.0) scale(1.0 1)" x="0" y="0" text-anchor="middle" font-size="16.3">6</text>
<text transform="translate(642.0 950.0) scale(1.0 1)" x="0" y="0" text-anchor="middle" font-size="16.3">5</text>
<path d="M738,47 L749,41" fill="none" stroke="#0a0a0a" stroke-width="1.04" />
<path d="M763,63 L772,58" fill="none" stroke="#0a0a0a" stroke-width="1.04" />
<path d="M487,112 L498,106" fill="none" stroke="#0a0a0a" stroke-width="1.04" />
<path d="M514,125.3 L523.5,120.3" fill="none" stroke="#0a0a0a" stroke-width="1.04" />
<path d="M554,152.5 L564,146.5" fill="none" stroke="#0a0a0a" stroke-width="1.04" />
<path d="M440,260 L449,265.6" fill="none" stroke="#0a0a0a" stroke-width="1.04" />
<path d="M530,268 L540,262" fill="none" stroke="#0a0a0a" stroke-width="1.04" />
<path d="M534,418 L545,423" fill="none" stroke="#0a0a0a" stroke-width="1.04" />
<path d="M393,481 L402.4,476" fill="none" stroke="#0a0a0a" stroke-width="1.04" />
<path d="M415,493.6 L426.4,488" fill="none" stroke="#0a0a0a" stroke-width="1.04" />
<path d="M447,513.6 L457,508" fill="none" stroke="#0a0a0a" stroke-width="1.04" />
<path d="M608,605 L618,599.6" fill="none" stroke="#0a0a0a" stroke-width="1.04" />
<path d="M633,619 L643,614" fill="none" stroke="#0a0a0a" stroke-width="1.04" />
<path d="M815,613 L829,604.4" fill="none" stroke="#0a0a0a" stroke-width="1.04" />
<path d="M858,639 L869,633" fill="none" stroke="#0a0a0a" stroke-width="1.04" />
<path d="M138,636 L149,629.6" fill="none" stroke="#0a0a0a" stroke-width="1.04" />
<path d="M654,936 L665,930" fill="none" stroke="#0a0a0a" stroke-width="1.04" />
<path d="M250,441 L269,441" fill="none" stroke="#0a0a0a" stroke-width="1.04" />
<path d="M821,758.6 L840,758.6" fill="none" stroke="#0a0a0a" stroke-width="1.04" />
<path d="M202,404 L210,426" fill="none" stroke="#0a0a0a" stroke-width="1.04" />
<path d="M202,404 L224,416" fill="none" stroke="#0a0a0a" stroke-width="1.04" />
<path d="M258,518 L235,503" fill="none" stroke="#0a0a0a" stroke-width="1.04" />
<path d="M258,519 L214,524" fill="none" stroke="#0a0a0a" stroke-width="1.04" />
<path d="M762,708 L788,726" fill="none" stroke="#0a0a0a" stroke-width="1.04" />
<path d="M762,708 L803,716" fill="none" stroke="#0a0a0a" stroke-width="1.04" />
<path d="M840,827 L815,811" fill="none" stroke="#0a0a0a" stroke-width="1.04" />
<path d="M840,827 L796,832" fill="none" stroke="#0a0a0a" stroke-width="1.04" />
<path d="M394.5,783.5 L404,777.5" fill="none" stroke="#0a0a0a" stroke-width="1.04" />
<path d="M636,296 L646,290" fill="none" stroke="#0a0a0a" stroke-width="1.04" />
<path d="M660,312 L671,306" fill="none" stroke="#0a0a0a" stroke-width="1.04" />
<path d="M784,343 L794,337" fill="none" stroke="#0a0a0a" stroke-width="1.04" />
<path d="M812,357 L821,352" fill="none" stroke="#0a0a0a" stroke-width="1.04" />
<ellipse cx="731.6" cy="55.6" rx="5.6" ry="8.4" transform="rotate(27 731.6 55.6)" fill="none" stroke="#0a0a0a" stroke-width="1.52"/>
<ellipse cx="731.8000000000001" cy="55.4" rx="3.6" ry="6.0" transform="rotate(27 731.8000000000001 55.4)" fill="none" stroke="#0a0a0a" stroke-width="1.52"/>
<path d="M729.7,64.1 L728.8,64.2 L728.0,64.2 L727.3,64.0 L726.5,63.7 L725.9,63.3 L725.4,62.7 L724.9,62.0 L724.6,61.2 L724.3,60.3 L724.2,59.3 L724.2,58.2 L724.4,57.2 L724.6,56.1 L725.0,55.0 L725.4,53.9 L726.0,52.9 L726.6,52.0 L727.3,51.1 L728.1,50.3 L729.0,49.7 L729.8,49.1 L730.7,48.7 L731.5,48.5 L732.4,48.4" fill="none" stroke="#0a0a0a" stroke-width="1.14" />
<ellipse cx="756.8" cy="69.8" rx="4.5" ry="7.3" transform="rotate(27 756.8 69.8)" fill="none" stroke="#000" stroke-width="2.75"/>
<ellipse cx="480.8" cy="119.8" rx="4.5" ry="7.3" transform="rotate(27 480.8 119.8)" fill="none" stroke="#000" stroke-width="2.75"/>
<ellipse cx="507" cy="135" rx="5.6" ry="8.4" transform="rotate(27 507 135)" fill="none" stroke="#0a0a0a" stroke-width="1.52"/>
<ellipse cx="507.2" cy="134.8" rx="3.6" ry="6.0" transform="rotate(27 507.2 134.8)" fill="none" stroke="#0a0a0a" stroke-width="1.52"/>
<path d="M505.1,143.5 L504.2,143.6 L503.4,143.6 L502.7,143.4 L501.9,143.1 L501.3,142.7 L500.8,142.1 L500.3,141.4 L500.0,140.6 L499.7,139.7 L499.6,138.7 L499.6,137.6 L499.8,136.6 L500.0,135.5 L500.4,134.4 L500.8,133.3 L501.4,132.3 L502.0,131.4 L502.7,130.5 L503.5,129.7 L504.4,129.1 L505.2,128.5 L506.1,128.1 L506.9,127.9 L507.8,127.8" fill="none" stroke="#0a0a0a" stroke-width="1.14" />
<ellipse cx="652.8" cy="284.8" rx="4.5" ry="7.3" transform="rotate(27 652.8 284.8)" fill="none" stroke="#000" stroke-width="2.75"/>
<ellipse cx="679" cy="298" rx="5.6" ry="8.4" transform="rotate(27 679 298)" fill="none" stroke="#0a0a0a" stroke-width="1.52"/>
<ellipse cx="679.2" cy="297.8" rx="3.6" ry="6.0" transform="rotate(27 679.2 297.8)" fill="none" stroke="#0a0a0a" stroke-width="1.52"/>
<path d="M677.1,306.5 L676.2,306.6 L675.4,306.6 L674.7,306.4 L673.9,306.1 L673.3,305.7 L672.8,305.1 L672.3,304.4 L672.0,303.6 L671.7,302.7 L671.6,301.7 L671.6,300.6 L671.8,299.6 L672.0,298.5 L672.4,297.4 L672.8,296.3 L673.4,295.3 L674.0,294.4 L674.7,293.5 L675.5,292.7 L676.4,292.1 L677.2,291.5 L678.1,291.1 L678.9,290.9 L679.8,290.8" fill="none" stroke="#0a0a0a" stroke-width="1.14" />
<ellipse cx="801" cy="331" rx="5.6" ry="8.4" transform="rotate(27 801 331)" fill="none" stroke="#0a0a0a" stroke-width="1.52"/>
<ellipse cx="801.2" cy="330.8" rx="3.6" ry="6.0" transform="rotate(27 801.2 330.8)" fill="none" stroke="#0a0a0a" stroke-width="1.52"/>
<path d="M799.1,339.5 L798.2,339.6 L797.4,339.6 L796.7,339.4 L795.9,339.1 L795.3,338.7 L794.8,338.1 L794.3,337.4 L794.0,336.6 L793.7,335.7 L793.6,334.7 L793.6,333.6 L793.8,332.6 L794.0,331.5 L794.4,330.4 L794.8,329.3 L795.4,328.3 L796.0,327.4 L796.7,326.5 L797.5,325.7 L798.4,325.1 L799.2,324.5 L800.1,324.1 L800.9,323.9 L801.8,323.8" fill="none" stroke="#0a0a0a" stroke-width="1.14" />
<ellipse cx="826.8" cy="345.8" rx="4.5" ry="7.3" transform="rotate(27 826.8 345.8)" fill="none" stroke="#000" stroke-width="2.75"/>
<ellipse cx="387.8" cy="490.8" rx="4.5" ry="7.3" transform="rotate(27 387.8 490.8)" fill="none" stroke="#000" stroke-width="2.75"/>
<ellipse cx="408.8" cy="502" rx="5.6" ry="8.4" transform="rotate(27 408.8 502)" fill="none" stroke="#0a0a0a" stroke-width="1.52"/>
<ellipse cx="409.0" cy="501.8" rx="3.6" ry="6.0" transform="rotate(27 409.0 501.8)" fill="none" stroke="#0a0a0a" stroke-width="1.52"/>
<path d="M406.9,510.5 L406.0,510.6 L405.2,510.6 L404.5,510.4 L403.7,510.1 L403.1,509.7 L402.6,509.1 L402.1,508.4 L401.8,507.6 L401.5,506.7 L401.4,505.7 L401.4,504.6 L401.6,503.6 L401.8,502.5 L402.2,501.4 L402.6,500.3 L403.2,499.3 L403.8,498.4 L404.5,497.5 L405.3,496.7 L406.2,496.1 L407.0,495.5 L407.9,495.1 L408.7,494.9 L409.6,494.8" fill="none" stroke="#0a0a0a" stroke-width="1.14" />
<ellipse cx="602.4" cy="613.6" rx="5.6" ry="8.4" transform="rotate(27 602.4 613.6)" fill="none" stroke="#0a0a0a" stroke-width="1.52"/>
<ellipse cx="602.6" cy="613.4" rx="3.6" ry="6.0" transform="rotate(27 602.6 613.4)" fill="none" stroke="#0a0a0a" stroke-width="1.52"/>
<path d="M600.5,622.1 L599.6,622.2 L598.8,622.2 L598.1,622.0 L597.3,621.7 L596.7,621.3 L596.2,620.7 L595.7,620.0 L595.4,619.2 L595.1,618.3 L595.0,617.3 L595.0,616.2 L595.2,615.2 L595.4,614.1 L595.8,613.0 L596.2,611.9 L596.8,610.9 L597.4,610.0 L598.1,609.1 L598.9,608.3 L599.8,607.7 L600.6,607.1 L601.5,606.7 L602.3,606.5 L603.2,606.4" fill="none" stroke="#0a0a0a" stroke-width="1.14" />
<ellipse cx="626.1999999999999" cy="627.1999999999999" rx="4.5" ry="7.3" transform="rotate(27 626.1999999999999 627.1999999999999)" fill="none" stroke="#000" stroke-width="2.75"/>
<path d="M528.4,155.4 L567.9,177.2" fill="none" stroke="#0a0a0a" stroke-width="1.19" />
<path d="M534.6,144.0 L574.1,165.8" fill="none" stroke="#0a0a0a" stroke-width="1.19" />
<path d="M528.9,155.7 L528.6,155.5 L528.4,155.1 L528.2,154.7 L528.1,154.3 L528.1,153.7 L528.1,153.1 L528.2,152.4 L528.4,151.7 L528.6,150.9 L528.9,150.2 L529.2,149.4 L529.6,148.7 L530.1,147.9 L530.5,147.2 L531.0,146.6 L531.5,146.0 L532.0,145.5 L532.6,145.0 L533.1,144.7 L533.6,144.4 L534.0,144.2 L534.4,144.2 L534.8,144.2 L535.2,144.3" fill="none" stroke="#111" stroke-width="2.28" />
<ellipse cx="571" cy="171.5" rx="4.29" ry="6.5" transform="rotate(28.894250344729222 571 171.5)" fill="none" stroke="#0a0a0a" stroke-width="1.19"/>
<path d="M564.5,174.3 L564.3,173.8 L564.2,173.2 L564.2,172.6 L564.2,171.9 L564.3,171.2 L564.4,170.6 L564.6,169.9 L564.9,169.2 L565.2,168.6 L565.6,167.9 L566.0,167.3 L566.4,166.7 L566.9,166.2 L567.4,165.8 L568.0,165.4 L568.5,165.0 L569.0,164.8 L569.6,164.6 L570.1,164.4 L570.7,164.4 L571.2,164.4 L571.7,164.5 L572.1,164.7 L572.5,164.9" fill="none" stroke="#0a0a0a" stroke-width="1.61" />
<path d="M427.9,521.7 L471.9,545.2" fill="none" stroke="#0a0a0a" stroke-width="1.19" />
<path d="M434.1,510.3 L478.1,533.8" fill="none" stroke="#0a0a0a" stroke-width="1.19" />
<path d="M428.5,522.0 L428.2,521.8 L427.9,521.5 L427.8,521.1 L427.7,520.6 L427.6,520.0 L427.7,519.4 L427.8,518.8 L427.9,518.0 L428.1,517.3 L428.4,516.5 L428.7,515.8 L429.1,515.0 L429.5,514.3 L430.0,513.6 L430.5,512.9 L431.0,512.3 L431.5,511.8 L432.0,511.3 L432.5,511.0 L433.0,510.7 L433.4,510.5 L433.9,510.4 L434.3,510.4 L434.6,510.5" fill="none" stroke="#111" stroke-width="2.28" />
<ellipse cx="475" cy="539.5" rx="4.29" ry="6.5" transform="rotate(28.106269820801877 475 539.5)" fill="none" stroke="#0a0a0a" stroke-width="1.19"/>
<path d="M468.5,542.4 L468.3,541.9 L468.2,541.3 L468.2,540.7 L468.2,540.0 L468.3,539.3 L468.4,538.7 L468.6,538.0 L468.9,537.3 L469.2,536.6 L469.5,536.0 L469.9,535.4 L470.4,534.8 L470.8,534.3 L471.3,533.8 L471.9,533.4 L472.4,533.1 L473.0,532.8 L473.5,532.6 L474.0,532.4 L474.6,532.4 L475.1,532.4 L475.6,532.5 L476.0,532.7 L476.4,532.9" fill="none" stroke="#0a0a0a" stroke-width="1.61" />
<path d="M792.9,612.9 L831.9,634.6" fill="none" stroke="#0a0a0a" stroke-width="1.19" />
<path d="M799.1,601.7 L838.1,623.4" fill="none" stroke="#0a0a0a" stroke-width="1.19" />
<path d="M793.4,613.2 L793.1,613.0 L792.9,612.7 L792.8,612.3 L792.7,611.8 L792.6,611.2 L792.7,610.6 L792.8,610.0 L792.9,609.3 L793.2,608.5 L793.5,607.8 L793.8,607.0 L794.2,606.3 L794.6,605.6 L795.1,604.9 L795.5,604.2 L796.0,603.7 L796.6,603.2 L797.1,602.7 L797.6,602.4 L798.0,602.1 L798.5,601.9 L798.9,601.9 L799.3,601.9 L799.6,602.0" fill="none" stroke="#111" stroke-width="2.28" />
<ellipse cx="834.4756959870454" cy="628.708271869715" rx="3.3240000000000003" ry="5.5" transform="rotate(29.092011566784823 834.4756959870454 628.708271869715)" fill="none" stroke="#000" stroke-width="2.47"/>
</g>
</svg>
</body></html>
